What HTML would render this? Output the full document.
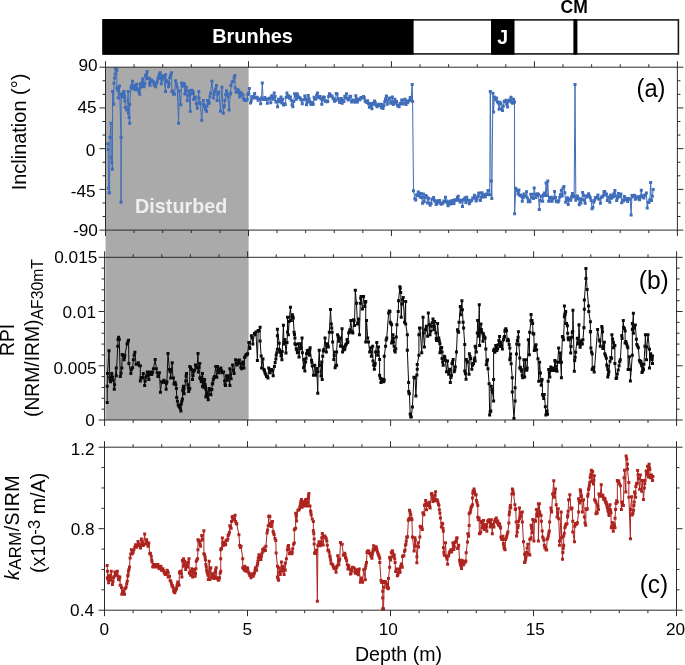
<!DOCTYPE html>
<html lang="en"><head><meta charset="utf-8"><title>Paleomagnetic record</title>
<style>html,body{margin:0;padding:0;background:#fff}body{width:685px;height:665px;overflow:hidden}svg{display:block}text{font-family:"Liberation Sans",Arial,Helvetica,sans-serif;fill:#000}</style></head><body>
<svg width="685" height="665" viewBox="0 0 685 665">
<rect width="685" height="665" fill="#fff"/>
<rect x="105.6" y="67.2" width="143" height="352.8" fill="#aaaaaa"/>
<rect x="103.2" y="19.9" width="575.2" height="34" fill="#fff" stroke="#1a1a1a" stroke-width="1.6"/>
<rect x="102.4" y="19.1" width="311.2" height="35.6" fill="#000"/>
<rect x="491" y="19.1" width="23.5" height="35.6" fill="#000"/>
<rect x="573.4" y="19.1" width="4" height="35.6" fill="#000"/>
<text x="252.6" y="43.3" font-size="19.9" font-weight="bold" text-anchor="middle" style="fill:#fff">Brunhes</text>
<text x="502.8" y="43.6" font-size="19.5" font-weight="bold" text-anchor="middle" style="fill:#fff">J</text>
<text x="574.2" y="13" font-size="17.5" font-weight="bold" text-anchor="middle">CM</text>
<polyline points="107.9,143.7 108.2,149.5 108.6,188.2 109.05,192.92 109.5,192.4 110,137.6 111,123.2 111.3,157.4 111.85,162.87 112.4,169.2 112.6,91.6 113.7,104.2 114,83.2 114.64,77.89 115.28,74.03 115.64,69 116.24,69 116.84,70.18 116.84,87.86 117.44,89.06 118.05,90.27 118.29,98.09 119.49,86.06 121.05,137.55 121.05,202.15 121.17,137.55 121.17,94.48 121.71,95.2 122.26,96.89 122.56,94.28 122.86,93.28 123.46,92.85 124.06,91.47 124.36,95.11 124.66,97.49 124.96,100.88 125.26,107.47 125.98,107.47 126.71,110.12 128.27,91.47 128.51,113.13 129.11,117.53 129.71,123.35 129.71,104.35 131.04,87.86 131.76,85.59 132.48,81.25 132.78,86 133.08,89.07 133.68,85.3 134.29,85.46 134.89,85.88 135.49,89.67 136.09,88.07 136.69,84.26 137.47,89.32 138.26,89.67 138.98,91.91 139.7,94.24 140,87.92 140.3,83.65 141.2,86.5 142.11,86.06 142.41,81.99 142.71,78.84 143.43,83.84 144.15,86.66 144.81,83.57 145.47,75.83 146.32,74.55 147.16,71.38 147.52,78.84 148.42,78.65 149.32,78.24 149.62,82.95 149.92,85.46 150.53,81.79 151.13,80.05 151.91,80.38 152.69,81.25 153.41,82.19 154.14,84.86 154.86,85.45 155.58,86.66 156.36,83.53 157.14,81.85 157.92,78.86 158.71,76.44 159.43,74.06 160.15,72.83 160.75,78.37 161.35,83.65 161.95,79.84 162.56,75.83 163.16,77.18 163.76,77.64 165.56,91.47 165.56,74.63 166.17,80.34 166.77,81.85 167.67,81.94 168.57,86.66 169.17,84.09 169.77,77.64 170.68,74.88 171.58,72.83 171.94,91.47 172.66,91.01 173.38,94.24 173.98,93.98 174.59,94.24 175.6,80.65 176.38,84.09 177.17,87.26 178.61,123.35 179.21,90.87 180.77,104.71 181.62,83.05 182.22,86.16 182.82,86.06 183.6,83.57 184.38,84.26 184.86,93.88 185.65,90.9 186.43,87.26 187.27,100.5 188.05,95.86 188.83,90.87 190.28,111.32 190.64,93.88 191.84,90.15 193.05,91.47 193.35,93.6 193.65,99.29 194.55,98.99 195.45,96.89 196.35,103.64 197.26,108.32 198.82,91.47 199.06,98.09 199.66,102.73 200.26,104.11 201.71,120.35 203.27,100.5 203.87,104.3 204.47,106.51 205.5,109.51 206.52,111.32 207,106.09 207.48,100.5 208.38,103.51 209.29,102.9 209.89,96.83 210.49,93.28 211.93,81.25 213.5,98.09 214.1,94.57 214.7,91.47 215.6,89.04 216.5,85.46 217.11,100.5 218.01,93.92 218.91,92.08 220.47,111.32 221.92,87.26 223.36,113.13 223.72,107.11 224.32,105.77 224.92,100.5 225.71,94.49 226.49,90.87 227.21,93.77 227.93,96.89 229.14,110.12 230.34,93.88 230.64,92.9 230.94,85.46 232.14,82.11 233.35,81.25 234.13,77.57 234.91,75.47 235.15,87.86 236.05,92.31 236.95,92.08 237.86,89.85 238.76,90.87 239.24,93.23 239.72,96.89 240.44,95.56 241.17,92.68 242.07,94.56 242.97,95.08 243.57,98.38 244.17,99.89 245.38,100.45 246.58,99.89 247.18,99.21 247.78,94.48 248.56,93 249.35,88.47 250.55,102.9 251.27,100.79 251.99,96.89 252.89,96.46 253.8,98.09 254.65,93.6 255.5,97.68 256.35,98.07 257.2,97.16 258.05,100.24 258.9,99.33 259.75,98.94 260.6,103.87 261.45,98.03 262.3,83.1 263.15,99.57 264,99.58 264.85,97.62 265.7,98.98 266.55,99.54 267.4,103.33 268.25,99.19 269.1,98.59 269.95,97.89 270.8,102.83 271.65,95.81 272.5,97.01 273.35,99.14 274.2,93.07 275.05,96.38 275.9,101.97 276.75,101.45 277.6,106.7 278.45,99.36 279.3,100.33 280.15,101.72 281,97.08 281.85,102.92 282.7,99.19 283.55,105.09 284.4,103.67 285.25,104.61 286.1,97.29 286.95,93.11 287.8,97.34 288.65,95.85 289.5,98.15 290.35,97.02 291.2,100.36 292.05,104.65 292.9,106.86 293.75,101.51 294.6,93.68 295.45,95.92 296.3,99.24 297.15,93.66 298,96.03 298.85,97.49 299.7,97.72 300.55,98.95 301.4,100.03 302.25,103.79 303.1,99.86 303.95,99.83 304.8,96.08 305.65,98.95 306.5,104.71 307.35,102.05 308.2,95.62 309.05,98.8 309.9,101.7 310.75,103.9 311.6,104.47 312.45,102.55 313.3,104.25 314.15,97.23 315,99.25 315.85,99.03 316.7,95.07 317.55,93.1 318.4,97.21 319.25,97.48 320.1,96.43 320.95,98.66 321.8,104.28 322.65,99.74 323.5,97 324.35,97.16 325.2,101.14 326.05,100.81 326.9,101.82 327.75,101.43 328.6,96.62 329.45,93.78 330.3,95 331.15,95.91 332,95.95 332.85,97.98 333.7,99.08 334.55,101.32 335.4,100.53 336.25,93.45 337.1,94.31 337.95,98.22 338.8,100.37 339.65,102.48 340.5,99.83 341.35,98.59 342.2,103.37 343.05,99.92 343.9,101.44 344.75,96.32 345.6,97.71 346.45,93.8 347.3,98.38 348.15,99.95 349,98.95 349.85,96.3 350.7,96.54 351.55,101.89 352.4,100.18 353.25,99.88 354.1,101.06 354.95,102.24 355.8,95.8 356.65,99.12 357.5,101.97 358.35,98.98 359.2,99.14 360.05,99.84 360.9,97.69 361.75,97.6 362.6,97.96 363.45,96.4 364.3,97.71 365.15,100.95 366,101.69 366.85,102.52 367.7,100.79 368.55,103.79 369.4,107.37 370.25,103.42 371.1,105.82 371.95,108.75 372.8,103.37 373.65,104.16 374.5,101.07 375.35,102.72 376.2,105.25 377.05,106.8 377.9,105.43 378.75,104.17 379.6,105.27 380.45,104.24 381.3,107.49 382.15,104.5 383,108.47 383.85,105.67 384.7,101.87 385.55,99.07 386.4,96 387.25,104.15 388.1,101.1 388.95,98.44 389.8,97.92 390.65,103.26 391.5,101.78 392.35,96.92 393.2,104.52 394.05,102.22 394.9,99.35 395.75,103.34 396.6,101.43 397.45,105.36 398.3,106.28 399.15,106.65 400,103.82 400.85,103.32 401.7,100 402.55,103.96 403.4,103.33 404.25,99.82 405.1,99.34 405.95,104.56 406.8,101.06 407.65,102.76 408.5,100.96 409.35,100.43 410.2,97.52 411.05,99.42 412.2,84.6 412.6,101.6 413.5,190.8 414.9,198.66 415.75,200.08 416.6,194.83 417.45,195.57 418.3,192.06 419.15,193.22 420,196.94 420.85,193.46 421.7,197.59 422.55,203.27 423.4,194.05 424.25,201.66 425.1,197.87 425.95,195.48 426.8,196.91 427.65,203.07 428.5,198.19 429.35,203.19 430.2,205.24 431.05,203.4 431.9,199.33 432.75,199.02 433.6,197.49 434.45,200.55 435.3,201.23 436.15,204.45 437,203.61 437.85,200.67 438.7,202.03 439.55,200.48 440.4,202.92 441.25,204.17 442.1,202.98 442.95,203.21 443.8,201.12 444.65,201.47 445.5,197.17 446.35,201.03 447.2,202.71 448.05,205.73 448.9,203.94 449.75,201.17 450.6,204 451.45,203.21 452.3,200.57 453.15,201.78 454,203.42 454.85,199.73 455.7,200.55 456.55,199.97 457.4,197.38 458.25,196.21 459.1,199.96 459.95,202.09 460.8,200.62 461.65,201.09 462.5,206.38 463.35,199.42 464.2,199.85 465.05,197.86 465.9,202.43 466.75,197.23 467.6,200.26 468.45,200.13 469.3,203.75 470.15,201.69 471,200.85 471.85,200.26 472.7,198.08 473.55,198.11 474.4,195.36 475.25,198.23 476.1,200.95 476.95,199.24 477.8,196.48 478.65,193.35 479.5,193.1 480.35,200.39 481.2,197.34 482.05,192.72 482.9,194.6 483.75,196.9 484.6,195.36 485.45,196.85 486.3,194.02 487.15,194.46 488,190.39 488.85,190.99 489.7,194.63 490.3,91.4 491.2,180.9 491.8,198.6 492.9,93.2 493.6,112 494.3,97 495.7,99.73 496.55,97.88 497.4,101.67 498.25,102.93 499.1,109.27 499.95,102.27 500.8,103.7 501.65,109.06 502.5,110.38 503.35,106.23 504.2,101.34 505.05,101.75 505.9,100.21 506.75,104.35 507.6,106.95 508.45,101.28 509.3,99.94 510.15,100.94 511,97.36 511.85,102.61 512.7,103.34 513.55,99.22 514.5,102 514.6,213.7 515.8,188.2 517.2,190.82 518.05,193.94 518.9,190.05 519.75,195.47 520.6,194.94 521.45,196.27 522.3,201.3 523.15,197.72 524,193.96 524.85,195.65 525.7,196.14 526.55,191.72 527.4,198.04 528.25,201.64 529.1,200.57 529.95,201.78 530.8,194.28 531.65,194.15 532.5,197.77 533.35,198.58 534.2,187.97 535.05,194.17 535.9,197.45 536.75,195.59 537.6,193.71 538.45,194.19 539.3,209.6 540.15,200.5 541,196.11 541.85,196.2 542.7,201.26 543.55,194.69 544.4,192.99 545.25,195.45 546.1,183 546.95,195.62 547.8,181 548.65,201.29 549.5,197.48 550.35,201.33 551.2,197.31 552.05,201.29 552.9,198.87 553.75,197.91 554.6,191.44 555.45,197.52 556.3,201.38 557.15,200.71 558,201.92 558.85,200.8 559.7,197.13 560.55,194.38 561.4,190.36 562.25,196.12 563.1,188.09 563.95,186.56 564.8,192.77 565.65,202.17 566.5,199.45 567.35,197.75 568.2,204.47 569.05,200.04 569.9,198.92 570.75,200.27 571.6,196.45 572.45,193.55 573.3,196.96 574.15,196.25 575,84.6 575.85,200.28 576.7,198.27 577.55,195.97 578.4,198.38 579.25,204.68 580.1,198.71 580.95,202.91 581.8,199.4 582.65,192.62 583.5,195.24 584.35,200.13 585.2,203.2 586.05,196.3 586.9,196.96 587.75,195.51 588.6,193.66 589.45,195.91 590.3,197.76 591.15,200.62 592,208.64 592.85,207.31 593.7,202.14 594.55,200.15 595.4,197.43 596.25,197.88 597.1,197.18 597.95,194.88 598.8,199.12 599.65,199.15 600.5,203.32 601.35,197.06 602.2,197.19 603.05,195.83 603.9,191.9 604.75,191.59 605.6,195.04 606.45,193.92 607.3,200.41 608.15,197.45 609,196.99 609.85,202.14 610.7,195.02 611.55,198.13 612.4,195.04 613.25,197.01 614.1,193.32 614.95,190.54 615.8,195.92 616.65,200.43 617.5,197.93 618.35,193.6 619.2,195.38 620.05,196.82 620.9,193.88 621.75,202.68 622.6,199.92 623.45,201.04 624.3,196.52 625.15,197.88 626,199.84 626.85,198.47 627.7,201.51 628.55,198.44 629.4,199.32 630.25,198.9 631.1,215 631.95,195.4 632.8,196.73 633.65,195.49 634.5,195.21 635.35,199.29 636.2,196.94 637.05,196.72 637.9,196.66 638.75,198.77 639.6,199.75 640.45,196.33 641.3,190.34 642.15,197.08 643,195.77 643.85,197.97 644.7,195.28 645.55,195.11 646.4,193.03 647.25,208 648.1,202.25 648.95,202.55 649.8,199.86 650.65,182.5 651.5,200.54 652.35,196.32 653.2,189.6" fill="none" stroke="#406db9" stroke-width="1.0" stroke-linejoin="round"/>
<path d="M106.4 142.2h3v3h-3zM106.7 148h3v3h-3zM107.1 186.7h3v3h-3zM107.55 191.42h3v3h-3zM108 190.9h3v3h-3zM108.5 136.1h3v3h-3zM109.5 121.7h3v3h-3zM109.8 155.9h3v3h-3zM110.35 161.37h3v3h-3zM110.9 167.7h3v3h-3zM111.1 90.1h3v3h-3zM112.2 102.7h3v3h-3zM112.5 81.7h3v3h-3zM113.14 76.39h3v3h-3zM113.78 72.53h3v3h-3zM114.14 67.5h3v3h-3zM114.74 67.5h3v3h-3zM115.34 68.68h3v3h-3zM115.34 86.36h3v3h-3zM115.94 87.56h3v3h-3zM116.55 88.77h3v3h-3zM116.79 96.59h3v3h-3zM117.99 84.56h3v3h-3zM119.55 136.05h3v3h-3zM119.55 200.65h3v3h-3zM119.67 136.05h3v3h-3zM119.67 92.98h3v3h-3zM120.21 93.7h3v3h-3zM120.76 95.39h3v3h-3zM121.06 92.78h3v3h-3zM121.36 91.78h3v3h-3zM121.96 91.35h3v3h-3zM122.56 89.97h3v3h-3zM122.86 93.61h3v3h-3zM123.16 95.99h3v3h-3zM123.46 99.38h3v3h-3zM123.76 105.97h3v3h-3zM124.48 105.97h3v3h-3zM125.21 108.62h3v3h-3zM126.77 89.97h3v3h-3zM127.01 111.63h3v3h-3zM127.61 116.03h3v3h-3zM128.21 121.85h3v3h-3zM128.21 102.85h3v3h-3zM129.54 86.36h3v3h-3zM130.26 84.09h3v3h-3zM130.98 79.75h3v3h-3zM131.28 84.5h3v3h-3zM131.58 87.57h3v3h-3zM132.18 83.8h3v3h-3zM132.79 83.96h3v3h-3zM133.39 84.38h3v3h-3zM133.99 88.17h3v3h-3zM134.59 86.57h3v3h-3zM135.19 82.76h3v3h-3zM135.97 87.82h3v3h-3zM136.76 88.17h3v3h-3zM137.48 90.41h3v3h-3zM138.2 92.74h3v3h-3zM138.5 86.42h3v3h-3zM138.8 82.15h3v3h-3zM139.7 85h3v3h-3zM140.61 84.56h3v3h-3zM140.91 80.49h3v3h-3zM141.21 77.34h3v3h-3zM141.93 82.34h3v3h-3zM142.65 85.16h3v3h-3zM143.31 82.07h3v3h-3zM143.97 74.33h3v3h-3zM144.82 73.05h3v3h-3zM145.66 69.88h3v3h-3zM146.02 77.34h3v3h-3zM146.92 77.15h3v3h-3zM147.82 76.74h3v3h-3zM148.12 81.45h3v3h-3zM148.42 83.96h3v3h-3zM149.03 80.29h3v3h-3zM149.63 78.55h3v3h-3zM150.41 78.88h3v3h-3zM151.19 79.75h3v3h-3zM151.91 80.69h3v3h-3zM152.64 83.36h3v3h-3zM153.36 83.95h3v3h-3zM154.08 85.16h3v3h-3zM154.86 82.03h3v3h-3zM155.64 80.35h3v3h-3zM156.42 77.36h3v3h-3zM157.21 74.94h3v3h-3zM157.93 72.56h3v3h-3zM158.65 71.33h3v3h-3zM159.25 76.87h3v3h-3zM159.85 82.15h3v3h-3zM160.45 78.34h3v3h-3zM161.06 74.33h3v3h-3zM161.66 75.68h3v3h-3zM162.26 76.14h3v3h-3zM164.06 89.97h3v3h-3zM164.06 73.13h3v3h-3zM164.67 78.84h3v3h-3zM165.27 80.35h3v3h-3zM166.17 80.44h3v3h-3zM167.07 85.16h3v3h-3zM167.67 82.59h3v3h-3zM168.27 76.14h3v3h-3zM169.18 73.38h3v3h-3zM170.08 71.33h3v3h-3zM170.44 89.97h3v3h-3zM171.16 89.51h3v3h-3zM171.88 92.74h3v3h-3zM172.48 92.48h3v3h-3zM173.09 92.74h3v3h-3zM174.1 79.15h3v3h-3zM174.88 82.59h3v3h-3zM175.67 85.76h3v3h-3zM177.11 121.85h3v3h-3zM177.71 89.37h3v3h-3zM179.27 103.21h3v3h-3zM180.12 81.55h3v3h-3zM180.72 84.66h3v3h-3zM181.32 84.56h3v3h-3zM182.1 82.07h3v3h-3zM182.88 82.76h3v3h-3zM183.36 92.38h3v3h-3zM184.15 89.4h3v3h-3zM184.93 85.76h3v3h-3zM185.77 99h3v3h-3zM186.55 94.36h3v3h-3zM187.33 89.37h3v3h-3zM188.78 109.82h3v3h-3zM189.14 92.38h3v3h-3zM190.34 88.65h3v3h-3zM191.55 89.97h3v3h-3zM191.85 92.1h3v3h-3zM192.15 97.79h3v3h-3zM193.05 97.49h3v3h-3zM193.95 95.39h3v3h-3zM194.85 102.14h3v3h-3zM195.76 106.82h3v3h-3zM197.32 89.97h3v3h-3zM197.56 96.59h3v3h-3zM198.16 101.23h3v3h-3zM198.76 102.61h3v3h-3zM200.21 118.85h3v3h-3zM201.77 99h3v3h-3zM202.37 102.8h3v3h-3zM202.97 105.01h3v3h-3zM204 108.01h3v3h-3zM205.02 109.82h3v3h-3zM205.5 104.59h3v3h-3zM205.98 99h3v3h-3zM206.88 102.01h3v3h-3zM207.79 101.4h3v3h-3zM208.39 95.33h3v3h-3zM208.99 91.78h3v3h-3zM210.43 79.75h3v3h-3zM212 96.59h3v3h-3zM212.6 93.07h3v3h-3zM213.2 89.97h3v3h-3zM214.1 87.54h3v3h-3zM215 83.96h3v3h-3zM215.61 99h3v3h-3zM216.51 92.42h3v3h-3zM217.41 90.58h3v3h-3zM218.97 109.82h3v3h-3zM220.42 85.76h3v3h-3zM221.86 111.63h3v3h-3zM222.22 105.61h3v3h-3zM222.82 104.27h3v3h-3zM223.42 99h3v3h-3zM224.21 92.99h3v3h-3zM224.99 89.37h3v3h-3zM225.71 92.27h3v3h-3zM226.43 95.39h3v3h-3zM227.64 108.62h3v3h-3zM228.84 92.38h3v3h-3zM229.14 91.4h3v3h-3zM229.44 83.96h3v3h-3zM230.64 80.61h3v3h-3zM231.85 79.75h3v3h-3zM232.63 76.07h3v3h-3zM233.41 73.97h3v3h-3zM233.65 86.36h3v3h-3zM234.55 90.81h3v3h-3zM235.45 90.58h3v3h-3zM236.36 88.35h3v3h-3zM237.26 89.37h3v3h-3zM237.74 91.73h3v3h-3zM238.22 95.39h3v3h-3zM238.94 94.06h3v3h-3zM239.67 91.18h3v3h-3zM240.57 93.06h3v3h-3zM241.47 93.58h3v3h-3zM242.07 96.88h3v3h-3zM242.67 98.39h3v3h-3zM243.88 98.95h3v3h-3zM245.08 98.39h3v3h-3zM245.68 97.71h3v3h-3zM246.28 92.98h3v3h-3zM247.06 91.5h3v3h-3zM247.85 86.97h3v3h-3zM249.05 101.4h3v3h-3zM249.77 99.29h3v3h-3zM250.49 95.39h3v3h-3zM251.39 94.96h3v3h-3zM252.3 96.59h3v3h-3zM253.15 92.1h3v3h-3zM254 96.18h3v3h-3zM254.85 96.57h3v3h-3zM255.7 95.66h3v3h-3zM256.55 98.74h3v3h-3zM257.4 97.83h3v3h-3zM258.25 97.44h3v3h-3zM259.1 102.37h3v3h-3zM259.95 96.53h3v3h-3zM260.8 81.6h3v3h-3zM261.65 98.07h3v3h-3zM262.5 98.08h3v3h-3zM263.35 96.12h3v3h-3zM264.2 97.48h3v3h-3zM265.05 98.04h3v3h-3zM265.9 101.83h3v3h-3zM266.75 97.69h3v3h-3zM267.6 97.09h3v3h-3zM268.45 96.39h3v3h-3zM269.3 101.33h3v3h-3zM270.15 94.31h3v3h-3zM271 95.51h3v3h-3zM271.85 97.64h3v3h-3zM272.7 91.57h3v3h-3zM273.55 94.88h3v3h-3zM274.4 100.47h3v3h-3zM275.25 99.95h3v3h-3zM276.1 105.2h3v3h-3zM276.95 97.86h3v3h-3zM277.8 98.83h3v3h-3zM278.65 100.22h3v3h-3zM279.5 95.58h3v3h-3zM280.35 101.42h3v3h-3zM281.2 97.69h3v3h-3zM282.05 103.59h3v3h-3zM282.9 102.17h3v3h-3zM283.75 103.11h3v3h-3zM284.6 95.79h3v3h-3zM285.45 91.61h3v3h-3zM286.3 95.84h3v3h-3zM287.15 94.35h3v3h-3zM288 96.65h3v3h-3zM288.85 95.52h3v3h-3zM289.7 98.86h3v3h-3zM290.55 103.15h3v3h-3zM291.4 105.36h3v3h-3zM292.25 100.01h3v3h-3zM293.1 92.18h3v3h-3zM293.95 94.42h3v3h-3zM294.8 97.74h3v3h-3zM295.65 92.16h3v3h-3zM296.5 94.53h3v3h-3zM297.35 95.99h3v3h-3zM298.2 96.22h3v3h-3zM299.05 97.45h3v3h-3zM299.9 98.53h3v3h-3zM300.75 102.29h3v3h-3zM301.6 98.36h3v3h-3zM302.45 98.33h3v3h-3zM303.3 94.58h3v3h-3zM304.15 97.45h3v3h-3zM305 103.21h3v3h-3zM305.85 100.55h3v3h-3zM306.7 94.12h3v3h-3zM307.55 97.3h3v3h-3zM308.4 100.2h3v3h-3zM309.25 102.4h3v3h-3zM310.1 102.97h3v3h-3zM310.95 101.05h3v3h-3zM311.8 102.75h3v3h-3zM312.65 95.73h3v3h-3zM313.5 97.75h3v3h-3zM314.35 97.53h3v3h-3zM315.2 93.57h3v3h-3zM316.05 91.6h3v3h-3zM316.9 95.71h3v3h-3zM317.75 95.98h3v3h-3zM318.6 94.93h3v3h-3zM319.45 97.16h3v3h-3zM320.3 102.78h3v3h-3zM321.15 98.24h3v3h-3zM322 95.5h3v3h-3zM322.85 95.66h3v3h-3zM323.7 99.64h3v3h-3zM324.55 99.31h3v3h-3zM325.4 100.32h3v3h-3zM326.25 99.93h3v3h-3zM327.1 95.12h3v3h-3zM327.95 92.28h3v3h-3zM328.8 93.5h3v3h-3zM329.65 94.41h3v3h-3zM330.5 94.45h3v3h-3zM331.35 96.48h3v3h-3zM332.2 97.58h3v3h-3zM333.05 99.82h3v3h-3zM333.9 99.03h3v3h-3zM334.75 91.95h3v3h-3zM335.6 92.81h3v3h-3zM336.45 96.72h3v3h-3zM337.3 98.87h3v3h-3zM338.15 100.98h3v3h-3zM339 98.33h3v3h-3zM339.85 97.09h3v3h-3zM340.7 101.87h3v3h-3zM341.55 98.42h3v3h-3zM342.4 99.94h3v3h-3zM343.25 94.82h3v3h-3zM344.1 96.21h3v3h-3zM344.95 92.3h3v3h-3zM345.8 96.88h3v3h-3zM346.65 98.45h3v3h-3zM347.5 97.45h3v3h-3zM348.35 94.8h3v3h-3zM349.2 95.04h3v3h-3zM350.05 100.39h3v3h-3zM350.9 98.68h3v3h-3zM351.75 98.38h3v3h-3zM352.6 99.56h3v3h-3zM353.45 100.74h3v3h-3zM354.3 94.3h3v3h-3zM355.15 97.62h3v3h-3zM356 100.47h3v3h-3zM356.85 97.48h3v3h-3zM357.7 97.64h3v3h-3zM358.55 98.34h3v3h-3zM359.4 96.19h3v3h-3zM360.25 96.1h3v3h-3zM361.1 96.46h3v3h-3zM361.95 94.9h3v3h-3zM362.8 96.21h3v3h-3zM363.65 99.45h3v3h-3zM364.5 100.19h3v3h-3zM365.35 101.02h3v3h-3zM366.2 99.29h3v3h-3zM367.05 102.29h3v3h-3zM367.9 105.87h3v3h-3zM368.75 101.92h3v3h-3zM369.6 104.32h3v3h-3zM370.45 107.25h3v3h-3zM371.3 101.87h3v3h-3zM372.15 102.66h3v3h-3zM373 99.57h3v3h-3zM373.85 101.22h3v3h-3zM374.7 103.75h3v3h-3zM375.55 105.3h3v3h-3zM376.4 103.93h3v3h-3zM377.25 102.67h3v3h-3zM378.1 103.77h3v3h-3zM378.95 102.74h3v3h-3zM379.8 105.99h3v3h-3zM380.65 103h3v3h-3zM381.5 106.97h3v3h-3zM382.35 104.17h3v3h-3zM383.2 100.37h3v3h-3zM384.05 97.57h3v3h-3zM384.9 94.5h3v3h-3zM385.75 102.65h3v3h-3zM386.6 99.6h3v3h-3zM387.45 96.94h3v3h-3zM388.3 96.42h3v3h-3zM389.15 101.76h3v3h-3zM390 100.28h3v3h-3zM390.85 95.42h3v3h-3zM391.7 103.02h3v3h-3zM392.55 100.72h3v3h-3zM393.4 97.85h3v3h-3zM394.25 101.84h3v3h-3zM395.1 99.93h3v3h-3zM395.95 103.86h3v3h-3zM396.8 104.78h3v3h-3zM397.65 105.15h3v3h-3zM398.5 102.32h3v3h-3zM399.35 101.82h3v3h-3zM400.2 98.5h3v3h-3zM401.05 102.46h3v3h-3zM401.9 101.83h3v3h-3zM402.75 98.32h3v3h-3zM403.6 97.84h3v3h-3zM404.45 103.06h3v3h-3zM405.3 99.56h3v3h-3zM406.15 101.26h3v3h-3zM407 99.46h3v3h-3zM407.85 98.93h3v3h-3zM408.7 96.02h3v3h-3zM409.55 97.92h3v3h-3zM410.7 83.1h3v3h-3zM411.1 100.1h3v3h-3zM412 189.3h3v3h-3zM413.4 197.16h3v3h-3zM414.25 198.58h3v3h-3zM415.1 193.33h3v3h-3zM415.95 194.07h3v3h-3zM416.8 190.56h3v3h-3zM417.65 191.72h3v3h-3zM418.5 195.44h3v3h-3zM419.35 191.96h3v3h-3zM420.2 196.09h3v3h-3zM421.05 201.77h3v3h-3zM421.9 192.55h3v3h-3zM422.75 200.16h3v3h-3zM423.6 196.37h3v3h-3zM424.45 193.98h3v3h-3zM425.3 195.41h3v3h-3zM426.15 201.57h3v3h-3zM427 196.69h3v3h-3zM427.85 201.69h3v3h-3zM428.7 203.74h3v3h-3zM429.55 201.9h3v3h-3zM430.4 197.83h3v3h-3zM431.25 197.52h3v3h-3zM432.1 195.99h3v3h-3zM432.95 199.05h3v3h-3zM433.8 199.73h3v3h-3zM434.65 202.95h3v3h-3zM435.5 202.11h3v3h-3zM436.35 199.17h3v3h-3zM437.2 200.53h3v3h-3zM438.05 198.98h3v3h-3zM438.9 201.42h3v3h-3zM439.75 202.67h3v3h-3zM440.6 201.48h3v3h-3zM441.45 201.71h3v3h-3zM442.3 199.62h3v3h-3zM443.15 199.97h3v3h-3zM444 195.67h3v3h-3zM444.85 199.53h3v3h-3zM445.7 201.21h3v3h-3zM446.55 204.23h3v3h-3zM447.4 202.44h3v3h-3zM448.25 199.67h3v3h-3zM449.1 202.5h3v3h-3zM449.95 201.71h3v3h-3zM450.8 199.07h3v3h-3zM451.65 200.28h3v3h-3zM452.5 201.92h3v3h-3zM453.35 198.23h3v3h-3zM454.2 199.05h3v3h-3zM455.05 198.47h3v3h-3zM455.9 195.88h3v3h-3zM456.75 194.71h3v3h-3zM457.6 198.46h3v3h-3zM458.45 200.59h3v3h-3zM459.3 199.12h3v3h-3zM460.15 199.59h3v3h-3zM461 204.88h3v3h-3zM461.85 197.92h3v3h-3zM462.7 198.35h3v3h-3zM463.55 196.36h3v3h-3zM464.4 200.93h3v3h-3zM465.25 195.73h3v3h-3zM466.1 198.76h3v3h-3zM466.95 198.63h3v3h-3zM467.8 202.25h3v3h-3zM468.65 200.19h3v3h-3zM469.5 199.35h3v3h-3zM470.35 198.76h3v3h-3zM471.2 196.58h3v3h-3zM472.05 196.61h3v3h-3zM472.9 193.86h3v3h-3zM473.75 196.73h3v3h-3zM474.6 199.45h3v3h-3zM475.45 197.74h3v3h-3zM476.3 194.98h3v3h-3zM477.15 191.85h3v3h-3zM478 191.6h3v3h-3zM478.85 198.89h3v3h-3zM479.7 195.84h3v3h-3zM480.55 191.22h3v3h-3zM481.4 193.1h3v3h-3zM482.25 195.4h3v3h-3zM483.1 193.86h3v3h-3zM483.95 195.35h3v3h-3zM484.8 192.52h3v3h-3zM485.65 192.96h3v3h-3zM486.5 188.89h3v3h-3zM487.35 189.49h3v3h-3zM488.2 193.13h3v3h-3zM488.8 89.9h3v3h-3zM489.7 179.4h3v3h-3zM490.3 197.1h3v3h-3zM491.4 91.7h3v3h-3zM492.1 110.5h3v3h-3zM492.8 95.5h3v3h-3zM494.2 98.23h3v3h-3zM495.05 96.38h3v3h-3zM495.9 100.17h3v3h-3zM496.75 101.43h3v3h-3zM497.6 107.77h3v3h-3zM498.45 100.77h3v3h-3zM499.3 102.2h3v3h-3zM500.15 107.56h3v3h-3zM501 108.88h3v3h-3zM501.85 104.73h3v3h-3zM502.7 99.84h3v3h-3zM503.55 100.25h3v3h-3zM504.4 98.71h3v3h-3zM505.25 102.85h3v3h-3zM506.1 105.45h3v3h-3zM506.95 99.78h3v3h-3zM507.8 98.44h3v3h-3zM508.65 99.44h3v3h-3zM509.5 95.86h3v3h-3zM510.35 101.11h3v3h-3zM511.2 101.84h3v3h-3zM512.05 97.72h3v3h-3zM513 100.5h3v3h-3zM513.1 212.2h3v3h-3zM514.3 186.7h3v3h-3zM515.7 189.32h3v3h-3zM516.55 192.44h3v3h-3zM517.4 188.55h3v3h-3zM518.25 193.97h3v3h-3zM519.1 193.44h3v3h-3zM519.95 194.77h3v3h-3zM520.8 199.8h3v3h-3zM521.65 196.22h3v3h-3zM522.5 192.46h3v3h-3zM523.35 194.15h3v3h-3zM524.2 194.64h3v3h-3zM525.05 190.22h3v3h-3zM525.9 196.54h3v3h-3zM526.75 200.14h3v3h-3zM527.6 199.07h3v3h-3zM528.45 200.28h3v3h-3zM529.3 192.78h3v3h-3zM530.15 192.65h3v3h-3zM531 196.27h3v3h-3zM531.85 197.08h3v3h-3zM532.7 186.47h3v3h-3zM533.55 192.67h3v3h-3zM534.4 195.95h3v3h-3zM535.25 194.09h3v3h-3zM536.1 192.21h3v3h-3zM536.95 192.69h3v3h-3zM537.8 208.1h3v3h-3zM538.65 199h3v3h-3zM539.5 194.61h3v3h-3zM540.35 194.7h3v3h-3zM541.2 199.76h3v3h-3zM542.05 193.19h3v3h-3zM542.9 191.49h3v3h-3zM543.75 193.95h3v3h-3zM544.6 181.5h3v3h-3zM545.45 194.12h3v3h-3zM546.3 179.5h3v3h-3zM547.15 199.79h3v3h-3zM548 195.98h3v3h-3zM548.85 199.83h3v3h-3zM549.7 195.81h3v3h-3zM550.55 199.79h3v3h-3zM551.4 197.37h3v3h-3zM552.25 196.41h3v3h-3zM553.1 189.94h3v3h-3zM553.95 196.02h3v3h-3zM554.8 199.88h3v3h-3zM555.65 199.21h3v3h-3zM556.5 200.42h3v3h-3zM557.35 199.3h3v3h-3zM558.2 195.63h3v3h-3zM559.05 192.88h3v3h-3zM559.9 188.86h3v3h-3zM560.75 194.62h3v3h-3zM561.6 186.59h3v3h-3zM562.45 185.06h3v3h-3zM563.3 191.27h3v3h-3zM564.15 200.67h3v3h-3zM565 197.95h3v3h-3zM565.85 196.25h3v3h-3zM566.7 202.97h3v3h-3zM567.55 198.54h3v3h-3zM568.4 197.42h3v3h-3zM569.25 198.77h3v3h-3zM570.1 194.95h3v3h-3zM570.95 192.05h3v3h-3zM571.8 195.46h3v3h-3zM572.65 194.75h3v3h-3zM573.5 83.1h3v3h-3zM574.35 198.78h3v3h-3zM575.2 196.77h3v3h-3zM576.05 194.47h3v3h-3zM576.9 196.88h3v3h-3zM577.75 203.18h3v3h-3zM578.6 197.21h3v3h-3zM579.45 201.41h3v3h-3zM580.3 197.9h3v3h-3zM581.15 191.12h3v3h-3zM582 193.74h3v3h-3zM582.85 198.63h3v3h-3zM583.7 201.7h3v3h-3zM584.55 194.8h3v3h-3zM585.4 195.46h3v3h-3zM586.25 194.01h3v3h-3zM587.1 192.16h3v3h-3zM587.95 194.41h3v3h-3zM588.8 196.26h3v3h-3zM589.65 199.12h3v3h-3zM590.5 207.14h3v3h-3zM591.35 205.81h3v3h-3zM592.2 200.64h3v3h-3zM593.05 198.65h3v3h-3zM593.9 195.93h3v3h-3zM594.75 196.38h3v3h-3zM595.6 195.68h3v3h-3zM596.45 193.38h3v3h-3zM597.3 197.62h3v3h-3zM598.15 197.65h3v3h-3zM599 201.82h3v3h-3zM599.85 195.56h3v3h-3zM600.7 195.69h3v3h-3zM601.55 194.33h3v3h-3zM602.4 190.4h3v3h-3zM603.25 190.09h3v3h-3zM604.1 193.54h3v3h-3zM604.95 192.42h3v3h-3zM605.8 198.91h3v3h-3zM606.65 195.95h3v3h-3zM607.5 195.49h3v3h-3zM608.35 200.64h3v3h-3zM609.2 193.52h3v3h-3zM610.05 196.63h3v3h-3zM610.9 193.54h3v3h-3zM611.75 195.51h3v3h-3zM612.6 191.82h3v3h-3zM613.45 189.04h3v3h-3zM614.3 194.42h3v3h-3zM615.15 198.93h3v3h-3zM616 196.43h3v3h-3zM616.85 192.1h3v3h-3zM617.7 193.88h3v3h-3zM618.55 195.32h3v3h-3zM619.4 192.38h3v3h-3zM620.25 201.18h3v3h-3zM621.1 198.42h3v3h-3zM621.95 199.54h3v3h-3zM622.8 195.02h3v3h-3zM623.65 196.38h3v3h-3zM624.5 198.34h3v3h-3zM625.35 196.97h3v3h-3zM626.2 200.01h3v3h-3zM627.05 196.94h3v3h-3zM627.9 197.82h3v3h-3zM628.75 197.4h3v3h-3zM629.6 213.5h3v3h-3zM630.45 193.9h3v3h-3zM631.3 195.23h3v3h-3zM632.15 193.99h3v3h-3zM633 193.71h3v3h-3zM633.85 197.79h3v3h-3zM634.7 195.44h3v3h-3zM635.55 195.22h3v3h-3zM636.4 195.16h3v3h-3zM637.25 197.27h3v3h-3zM638.1 198.25h3v3h-3zM638.95 194.83h3v3h-3zM639.8 188.84h3v3h-3zM640.65 195.58h3v3h-3zM641.5 194.27h3v3h-3zM642.35 196.47h3v3h-3zM643.2 193.78h3v3h-3zM644.05 193.61h3v3h-3zM644.9 191.53h3v3h-3zM645.75 206.5h3v3h-3zM646.6 200.75h3v3h-3zM647.45 201.05h3v3h-3zM648.3 198.36h3v3h-3zM649.15 181h3v3h-3zM650 199.04h3v3h-3zM650.85 194.82h3v3h-3zM651.7 188.1h3v3h-3z" fill="#406db9"/>
<polyline points="107.22,402.41 107.22,386.17 107.52,373.38 109.02,350.83 109.77,377.14 110.15,380.01 110.53,381.65 111.13,376.63 111.73,373.38 112.48,377.08 113.23,380.15 114.29,389.17 114.59,384.66 116.24,368.12 116.24,375.64 117.74,346.32 118.05,339.55 118.65,337.34 119.25,339.55 120.3,376.39 121.05,373.23 121.8,368.12 122.26,354.59 123.16,355.22 124.06,359.85 124.44,357.6 124.81,355.34 127.07,344.06 127.82,342.02 128.57,340.3 128.87,363.61 130.83,373.38 131.35,369.7 131.88,368.12 132.63,367.72 133.38,359.85 134.14,355.31 134.89,352.33 136.09,364.36 137.22,364.22 138.35,362.86 139.32,365.79 140.3,365.86 140.3,380.9 141.05,377.82 141.8,377.89 142.56,377.38 143.31,373.38 144.66,385.41 145.26,381.12 145.86,377.14 146.62,375.83 147.37,371.88 148.12,374.45 148.87,379.4 149.62,374.3 150.38,371.88 151.13,374.58 151.88,374.14 152.63,372.16 153.38,368.87 155.19,359.4 156.39,368.87 157.14,372.81 157.89,376.39 158.65,375.34 159.4,372.63 160.45,392.18 161.65,381.65 162.41,382.34 163.16,381.65 163.91,380.15 164.66,381.65 165.41,382.54 166.17,389.17 166.54,383.23 166.92,381.65 167.97,353.38 169.47,369.62 170.08,371.43 170.68,377.89 172.18,362.86 172.93,377.89 173.46,378.02 173.98,383.91 174.59,382.32 175.19,382.41 175.79,384.73 176.39,388.42 176.69,397.44 177.44,401.15 178.2,404.96 178.95,406.37 179.7,407.22 180.3,408.6 180.9,410.98 181.2,404.21 181.8,401.25 182.41,398.95 182.71,390.68 183.08,388.52 183.46,386.17 183.83,388.63 184.21,393.68 185.71,380.9 186.09,376.21 186.47,373.38 187.97,384.66 188.35,388.09 188.72,391.43 189.25,389.04 189.77,388.42 189.77,366.62 190.6,367.38 191.43,369.62 192.48,379.4 193.01,375.5 193.53,371.88 194.51,370.23 195.49,365.11 196.24,367.03 196.99,368.12 198.01,353.38 198.31,371.88 199.06,367.31 199.81,363.61 199.81,377.89 200.56,379.01 201.32,381.65 201.92,377.37 202.52,373.38 202.52,386.17 203.27,387.2 204.02,382.41 204.62,379.44 205.23,384.66 205.53,387.61 205.83,389.17 205.83,396.69 206.43,394.74 207.03,392.18 207.63,397.07 208.23,399.7 209.29,388.42 209.66,389.94 210.04,394.44 210.94,394.7 211.84,389.47 212.29,383.91 212.82,382.96 213.35,379.4 213.95,377.83 214.55,376.39 215.75,366.62 216.8,377.14 217.56,366.62 218.16,369.83 218.76,372.63 219.81,369.44 220.86,368.12 221.47,370.44 222.07,372.63 222.82,372.07 223.57,371.88 224.62,380.9 225.08,384.38 225.53,385.41 226.58,375.64 226.95,378.36 227.33,380.15 227.86,377.79 228.38,375.64 229.89,385.41 229.89,368.87 231.09,378.65 232.59,365.11 233.35,370.13 234.1,373.38 235.6,359.85 236.35,363.2 237.11,365.11 237.86,363.15 238.61,360.6 239.36,360.12 240.11,363.61 240.86,367.58 241.62,368.87 242.22,363.97 242.82,362.11 243.35,363.8 243.87,368.12 244.62,357.59 245.38,355.95 246.13,354.59 246.88,354.88 247.63,353.83 248.83,342.56 249.36,347.39 249.89,348.57 251.39,335.79 252.14,337.73 252.89,344.06 254.4,333.53 255.15,334.69 255.9,332.03 257.41,360.6 258.16,330.53 259.14,331 260.11,327.22 260.11,341.05 261.17,356.09 261.62,368.12 262.97,359.1 263.87,369.62 264.4,370.53 264.92,372.63 265.68,374.25 266.43,376.39 267.18,376.4 267.93,377.89 268.68,368.12 269.44,369.59 270.19,372.63 270.94,369.39 271.69,369.62 272.44,370.44 273.2,375.64 274.4,366.62 275.15,362.6 275.9,359.1 276.2,355.34 276.8,352.67 277.41,349.32 277.41,335.79 277.41,329.32 279.21,343.31 279.59,349.82 279.96,351.58 280.49,352.53 281.02,356.09 281.47,355.25 281.92,359.85 282.22,351.58 283.42,325.26 284.02,344.06 284.47,342 284.92,339.55 285.98,353.08 287.03,342.56 287.48,332.03 287.48,317.26 288.31,334.63 289.14,321.39 290.46,307.33 291.29,320.57 291.87,317.07 292.44,314.78 292.86,316.89 293.27,318.09 294.1,332.15 294.51,334.52 294.93,337.94 294.93,343.73 295.59,344.57 296.25,348.69 296.83,349.86 297.41,352.82 298.56,343.73 299.06,356.96 300.22,343.73 300.72,347.25 301.21,348.69 302.04,337.94 302.37,352.82 303.53,367.71 304.02,359.44 304.85,371.02 305.68,361.92 306.09,358.14 306.51,353.65 307.33,350.74 308.16,350.34 308.82,353.96 309.48,355.31 309.81,349.7 310.14,347.86 311.47,360.27 311.88,362.47 312.3,366.06 313.45,375.16 314.78,365.23 315.6,375.16 316.18,372.11 316.76,368.54 317.75,393.35 318.09,371.85 319.24,350.34 319.74,365.23 321.06,375.98 321.72,361.92 322.22,379.62 322.72,356.13 323.3,351.05 323.88,349.52 325.03,337.94 326.36,352 326.77,346.31 327.18,343.73 327.76,345.4 328.34,347.03 329.33,332.15 330.49,309.48 331.32,323.88 331.73,327.91 332.15,332.15 332.64,342.07 333.8,359.44 334.21,355.39 334.63,352 335.12,367.71 335.87,365.74 336.61,365.23 336.61,352 337.61,334.63 338.18,336.5 338.76,341.24 339.34,338.57 339.92,337.94 340.42,346.03 340.91,346.21 342.07,328.84 342.57,352 343.15,348.7 343.73,347.03 344.31,349.82 344.88,348.69 345.38,345.86 345.88,344.55 346.46,343.85 347.03,339.59 347.45,342.43 347.86,342.07 348.69,332.97 349.27,331.91 349.85,329.67 350.84,320.57 352,332.15 352.41,331.73 352.82,332.97 353.65,319.74 354.07,320.84 354.48,325.53 355.31,290.29 356.46,303.2 357.46,323.88 358.04,322.65 358.61,318.91 359.44,334.63 360.27,303.2 360.68,298.22 361.1,296.58 362.42,308.99 363.58,296.58 364.74,306.51 365.23,302.37 365.73,301.54 365.73,342.07 366.56,320.57 367.71,337.94 368.13,341.98 368.54,342.07 369.7,352 370.19,351.83 370.69,347.86 371.02,352.05 371.35,356.13 372.68,346.21 373.01,361.1 373.67,364.91 374.33,369.37 374.74,365.61 375.16,363.58 375.65,352 376.81,342.57 377.64,355.31 378.05,351.63 378.47,347.03 379.62,359.44 379.62,375.16 380.29,378.25 380.95,382.6 381.61,378.98 382.27,379.29 382.85,379.54 383.43,381.77 383.84,381.27 384.26,380.12 384.26,356.13 385.58,346.21 386.16,340.01 386.74,337.94 388.64,313.12 389.3,311.02 389.96,311.47 390.29,322.22 390.96,323.62 391.62,324.7 391.62,342.9 392.28,340.96 392.94,334.63 393.27,338.58 393.6,342.07 394.1,346.25 394.59,350.34 395.17,352.03 395.75,348.69 396.25,337.11 396.91,324.7 398.23,311.47 398.56,300.72 399.89,286.65 400.3,288.17 400.72,292.44 401.21,317.26 401.87,304.02 402.54,299.76 403.2,297.41 404.52,322.22 405.68,301.54 405.68,323.88 407.33,334.63 407.33,350.34 408.6,382.5 408.7,391.5 409.05,393.75 409.4,393.8 410.2,414.1 410.75,417 411.3,417.1 412.4,407 413.9,377.3 414.45,377.89 415,377.3 415.9,396 416.9,375 417.26,369.37 417.26,364.4 418.91,355.31 418.91,334.63 419.49,327.91 420.07,328.01 421.72,352.82 423.05,317.26 423.38,332.97 424.37,347.03 425.53,329.67 425.94,328.97 426.36,326.36 427.68,336.28 428.34,313.12 429.33,324.7 430,334.63 430.66,331.36 431.32,326.36 432.15,322.69 432.97,318.91 433.8,329.67 434.21,326.4 434.63,321.39 435.95,332.97 436.28,338.53 436.61,340.42 437.61,323.38 438.76,337.94 439.34,340.9 439.92,343.73 439.92,352.82 440.58,349.13 441.24,347.86 441.66,347.54 442.07,352 442.07,358.61 442.65,362.01 443.23,365.23 444.22,356.13 444.8,357.27 445.38,360.27 446.54,371.85 447.53,361.1 448.69,374.33 449.27,371.12 449.85,369.37 450.34,382.6 450.92,377.41 451.5,375.16 452,363.58 452.58,361.87 453.16,359.44 454.15,371.85 454.73,370.32 455.31,366.89 456.46,352 457.46,329.67 458.04,331.47 458.61,332.15 459.11,322.22 460.27,306.51 460.77,314.78 461.92,300.72 462.42,309.81 463.08,322.22 463.58,328.01 464.74,344.55 464.74,371.02 465.4,373.7 466.06,379.29 466.39,359.44 467.05,361.84 467.71,361.92 469.04,374.33 469.37,353.65 470.03,356.54 470.69,358.61 471.85,369.37 472.26,364.07 472.68,365.23 473.5,363.52 474.33,360.27 474.74,358.04 475.16,361.1 475.16,346.21 475.74,347.62 476.32,352 477.31,332.97 477.64,320.57 478.47,336.28 479.29,304.85 479.62,345.38 480.95,323.88 481.36,329.39 481.77,332.15 482.93,341.24 483.43,333.8 484.26,336.72 485.08,337.94 485.08,338.16 485.83,348.91 486.32,364.63 486.9,361.31 487.48,359.67 487.98,368.76 489.14,383.65 489.63,415.08 490.21,411.87 490.79,410.95 491.29,386.13 491.87,389.48 492.44,391.92 493.6,401.02 493.6,379.52 493.6,350.57 494.26,349.06 494.93,352.22 495.34,349.45 495.75,345.6 496.33,347.71 496.91,350.57 497.57,348.63 498.23,344.78 498.9,340.48 499.56,336.51 500.22,346.43 500.72,342.95 501.21,342.3 501.79,345.87 502.37,348.91 503.53,339.81 504.02,337.7 504.52,336.51 504.85,331.35 505.18,329.89 505.84,328.79 506.51,330.72 507.33,340.64 507.91,339.33 508.49,340.64 509.15,344.43 509.81,348.09 509.81,359.67 510.23,357.77 510.64,353.88 511.14,363.8 512.3,377.86 512.3,391.92 513.95,418.39 515.11,401.02 515.11,387.79 516.43,353.88 516.76,343.95 517.42,340.6 518.09,337.33 518.42,331.87 518.91,344.78 519.74,358.01 519.74,367.94 520.4,367.2 521.06,369.59 521.39,369.92 521.72,371.24 522.22,375.29 522.72,377.86 523.88,359.67 524.7,377.03 525.53,359.67 526.36,369.59 526.77,370.16 527.18,367.94 528.34,339.81 529.33,354.7 529.67,332.37 530.99,320.79 531.07,314.54 531.43,320.56 532.03,320.84 532.63,323.56 532.97,333.2 533.39,333.98 533.8,334.02 534.3,350.57 534.88,347.58 535.45,345.6 536.03,344.87 536.61,349.74 537.94,358.84 538.76,381.17 539.59,362.15 540.42,372.9 541.24,385.31 541.66,380.73 542.07,379.52 542.57,394.4 543.15,395.74 543.73,398.54 544.22,394.4 545.38,406.81 545.88,415.08 546.46,412.34 547.03,410.95 547.53,414.26 548.19,381.17 548.69,369.59 549.27,372.8 549.85,377.03 550.84,367.11 551.42,367.98 552,370.42 552.41,369.65 552.82,367.94 553.49,367.93 554.15,370.42 554.81,360.49 555.31,361.31 555.8,366.28 556.38,369.42 556.96,371.24 557.79,362.15 558.61,348.09 559.77,362.15 560.27,353.05 561.43,377.86 561.43,362.15 562.42,336.51 563,337.36 563.58,339.81 564.4,316.65 564.4,306.12 564.75,314.54 565.23,314.07 565.71,311.53 565.71,323.56 566.55,323.57 567.38,325.75 567.71,333.2 568.13,338.21 568.54,339.81 569.12,337.79 569.7,338.99 570.69,353.05 571.02,346.43 571.85,337.33 572.26,332.87 572.68,331.54 572.93,310.33 574.33,371.24 574.66,360.49 575.16,357.26 575.65,352.22 577.31,338.16 577.89,343.37 578.47,343.95 578.96,324.93 578.96,324.77 580.12,347.26 580.53,342.91 580.95,340.64 581.36,344.34 581.77,343.95 582.35,343.86 582.93,339.81 583.92,327.41 583.92,327.77 584.36,309.13 584.36,300.11 585.92,278.45 585.92,268.59 587.13,289.52 588.57,306.12 588.81,311.53 590.38,321.76 590.38,331.98 590.54,331.54 590.87,348.09 591.53,352.01 592.2,353.88 592.2,369.59 592.78,368.48 593.35,367.94 593.77,367.16 594.18,372.07 597.59,329.58 599.25,340.11 599.77,341.08 600.3,346.13 601.8,326.58 602.18,328.16 602.56,331.84 602.86,348.38 603.61,346.03 604.36,342.37 604.81,353.65 605.56,355.65 606.32,358.16 606.77,364.92 607.29,366.32 607.82,369.44 607.82,376.95 608.35,374.43 608.87,371.69 610.08,361.17 610.83,357.51 611.58,358.16 611.88,334.85 612.63,339.1 613.38,342.37 613.38,347.63 614.14,345.26 614.89,345.38 614.89,363.42 616.09,378.46 616.69,377.85 617.29,373.95 618.2,370.01 619.1,365.68 619.7,361.67 620.3,359.66 621.8,335.6 622.11,338.61 623.31,320.56 623.61,327.33 624.36,328.51 625.11,331.09 625.11,343.12 625.86,341.4 626.62,343.87 627.22,345.97 627.82,347.63 628.12,369.44 629.32,356.65 630.38,369.44 630.38,381.02 632.33,355.15 632.33,323.57 632.33,329.59 633.38,313.35 633.38,333.35 634.36,327.9 635.34,325.08 636.39,339.36 636.84,344.62 637.59,345.98 638.35,347.63 639.4,360.41 640.15,362.27 640.9,361.17 641.28,363.86 641.65,365.68 641.95,372.44 642.56,371.18 643.16,368.68 643.53,369.86 643.91,364.17 644.96,346.13 645.41,334.85 646.47,359.66 646.92,346.88 647.97,334.85 649.47,349.14 649.47,367.93 650.68,353.65 651.28,357.55 651.88,359.66 652.18,359.23 652.48,355.9 652.48,363.42" fill="none" stroke="#0a0a0a" stroke-width="1.0" stroke-linejoin="round"/>
<path d="M105.72 400.91h3v3h-3zM105.72 384.67h3v3h-3zM106.02 371.88h3v3h-3zM107.52 349.33h3v3h-3zM108.27 375.64h3v3h-3zM108.65 378.51h3v3h-3zM109.03 380.15h3v3h-3zM109.63 375.13h3v3h-3zM110.23 371.88h3v3h-3zM110.98 375.58h3v3h-3zM111.73 378.65h3v3h-3zM112.79 387.67h3v3h-3zM113.09 383.16h3v3h-3zM114.74 366.62h3v3h-3zM114.74 374.14h3v3h-3zM116.24 344.82h3v3h-3zM116.55 338.05h3v3h-3zM117.15 335.84h3v3h-3zM117.75 338.05h3v3h-3zM118.8 374.89h3v3h-3zM119.55 371.73h3v3h-3zM120.3 366.62h3v3h-3zM120.76 353.09h3v3h-3zM121.66 353.72h3v3h-3zM122.56 358.35h3v3h-3zM122.94 356.1h3v3h-3zM123.31 353.84h3v3h-3zM125.57 342.56h3v3h-3zM126.32 340.52h3v3h-3zM127.07 338.8h3v3h-3zM127.37 362.11h3v3h-3zM129.33 371.88h3v3h-3zM129.85 368.2h3v3h-3zM130.38 366.62h3v3h-3zM131.13 366.22h3v3h-3zM131.88 358.35h3v3h-3zM132.64 353.81h3v3h-3zM133.39 350.83h3v3h-3zM134.59 362.86h3v3h-3zM135.72 362.72h3v3h-3zM136.85 361.36h3v3h-3zM137.82 364.29h3v3h-3zM138.8 364.36h3v3h-3zM138.8 379.4h3v3h-3zM139.55 376.32h3v3h-3zM140.3 376.39h3v3h-3zM141.06 375.88h3v3h-3zM141.81 371.88h3v3h-3zM143.16 383.91h3v3h-3zM143.76 379.62h3v3h-3zM144.36 375.64h3v3h-3zM145.12 374.33h3v3h-3zM145.87 370.38h3v3h-3zM146.62 372.95h3v3h-3zM147.37 377.9h3v3h-3zM148.12 372.8h3v3h-3zM148.88 370.38h3v3h-3zM149.63 373.08h3v3h-3zM150.38 372.64h3v3h-3zM151.13 370.66h3v3h-3zM151.88 367.37h3v3h-3zM153.69 357.9h3v3h-3zM154.89 367.37h3v3h-3zM155.64 371.31h3v3h-3zM156.39 374.89h3v3h-3zM157.15 373.84h3v3h-3zM157.9 371.13h3v3h-3zM158.95 390.68h3v3h-3zM160.15 380.15h3v3h-3zM160.91 380.84h3v3h-3zM161.66 380.15h3v3h-3zM162.41 378.65h3v3h-3zM163.16 380.15h3v3h-3zM163.91 381.04h3v3h-3zM164.67 387.67h3v3h-3zM165.04 381.73h3v3h-3zM165.42 380.15h3v3h-3zM166.47 351.88h3v3h-3zM167.97 368.12h3v3h-3zM168.58 369.93h3v3h-3zM169.18 376.39h3v3h-3zM170.68 361.36h3v3h-3zM171.43 376.39h3v3h-3zM171.96 376.52h3v3h-3zM172.48 382.41h3v3h-3zM173.09 380.82h3v3h-3zM173.69 380.91h3v3h-3zM174.29 383.23h3v3h-3zM174.89 386.92h3v3h-3zM175.19 395.94h3v3h-3zM175.94 399.65h3v3h-3zM176.7 403.46h3v3h-3zM177.45 404.87h3v3h-3zM178.2 405.72h3v3h-3zM178.8 407.1h3v3h-3zM179.4 409.48h3v3h-3zM179.7 402.71h3v3h-3zM180.3 399.75h3v3h-3zM180.91 397.45h3v3h-3zM181.21 389.18h3v3h-3zM181.58 387.02h3v3h-3zM181.96 384.67h3v3h-3zM182.33 387.13h3v3h-3zM182.71 392.18h3v3h-3zM184.21 379.4h3v3h-3zM184.59 374.71h3v3h-3zM184.97 371.88h3v3h-3zM186.47 383.16h3v3h-3zM186.85 386.59h3v3h-3zM187.22 389.93h3v3h-3zM187.75 387.54h3v3h-3zM188.27 386.92h3v3h-3zM188.27 365.12h3v3h-3zM189.1 365.88h3v3h-3zM189.93 368.12h3v3h-3zM190.98 377.9h3v3h-3zM191.51 374h3v3h-3zM192.03 370.38h3v3h-3zM193.01 368.73h3v3h-3zM193.99 363.61h3v3h-3zM194.74 365.53h3v3h-3zM195.49 366.62h3v3h-3zM196.51 351.88h3v3h-3zM196.81 370.38h3v3h-3zM197.56 365.81h3v3h-3zM198.31 362.11h3v3h-3zM198.31 376.39h3v3h-3zM199.06 377.51h3v3h-3zM199.82 380.15h3v3h-3zM200.42 375.87h3v3h-3zM201.02 371.88h3v3h-3zM201.02 384.67h3v3h-3zM201.77 385.7h3v3h-3zM202.52 380.91h3v3h-3zM203.12 377.94h3v3h-3zM203.73 383.16h3v3h-3zM204.03 386.11h3v3h-3zM204.33 387.67h3v3h-3zM204.33 395.19h3v3h-3zM204.93 393.24h3v3h-3zM205.53 390.68h3v3h-3zM206.13 395.57h3v3h-3zM206.73 398.2h3v3h-3zM207.79 386.92h3v3h-3zM208.16 388.44h3v3h-3zM208.54 392.94h3v3h-3zM209.44 393.2h3v3h-3zM210.34 387.97h3v3h-3zM210.79 382.41h3v3h-3zM211.32 381.46h3v3h-3zM211.85 377.9h3v3h-3zM212.45 376.33h3v3h-3zM213.05 374.89h3v3h-3zM214.25 365.12h3v3h-3zM215.3 375.64h3v3h-3zM216.06 365.12h3v3h-3zM216.66 368.33h3v3h-3zM217.26 371.13h3v3h-3zM218.31 367.94h3v3h-3zM219.36 366.62h3v3h-3zM219.97 368.94h3v3h-3zM220.57 371.13h3v3h-3zM221.32 370.57h3v3h-3zM222.07 370.38h3v3h-3zM223.12 379.4h3v3h-3zM223.58 382.88h3v3h-3zM224.03 383.91h3v3h-3zM225.08 374.14h3v3h-3zM225.45 376.86h3v3h-3zM225.83 378.65h3v3h-3zM226.36 376.29h3v3h-3zM226.88 374.14h3v3h-3zM228.39 383.91h3v3h-3zM228.39 367.37h3v3h-3zM229.59 377.15h3v3h-3zM231.09 363.61h3v3h-3zM231.85 368.63h3v3h-3zM232.6 371.88h3v3h-3zM234.1 358.35h3v3h-3zM234.85 361.7h3v3h-3zM235.61 363.61h3v3h-3zM236.36 361.65h3v3h-3zM237.11 359.1h3v3h-3zM237.86 358.62h3v3h-3zM238.61 362.11h3v3h-3zM239.36 366.08h3v3h-3zM240.12 367.37h3v3h-3zM240.72 362.47h3v3h-3zM241.32 360.61h3v3h-3zM241.85 362.3h3v3h-3zM242.37 366.62h3v3h-3zM243.12 356.09h3v3h-3zM243.88 354.45h3v3h-3zM244.63 353.09h3v3h-3zM245.38 353.38h3v3h-3zM246.13 352.33h3v3h-3zM247.33 341.06h3v3h-3zM247.86 345.89h3v3h-3zM248.39 347.07h3v3h-3zM249.89 334.29h3v3h-3zM250.64 336.23h3v3h-3zM251.39 342.56h3v3h-3zM252.9 332.03h3v3h-3zM253.65 333.19h3v3h-3zM254.4 330.53h3v3h-3zM255.91 359.1h3v3h-3zM256.66 329.03h3v3h-3zM257.64 329.5h3v3h-3zM258.61 325.72h3v3h-3zM258.61 339.55h3v3h-3zM259.67 354.59h3v3h-3zM260.12 366.62h3v3h-3zM261.47 357.6h3v3h-3zM262.37 368.12h3v3h-3zM262.9 369.03h3v3h-3zM263.42 371.13h3v3h-3zM264.18 372.75h3v3h-3zM264.93 374.89h3v3h-3zM265.68 374.9h3v3h-3zM266.43 376.39h3v3h-3zM267.18 366.62h3v3h-3zM267.94 368.09h3v3h-3zM268.69 371.13h3v3h-3zM269.44 367.89h3v3h-3zM270.19 368.12h3v3h-3zM270.94 368.94h3v3h-3zM271.7 374.14h3v3h-3zM272.9 365.12h3v3h-3zM273.65 361.1h3v3h-3zM274.4 357.6h3v3h-3zM274.7 353.84h3v3h-3zM275.3 351.17h3v3h-3zM275.91 347.82h3v3h-3zM275.91 334.29h3v3h-3zM275.91 327.82h3v3h-3zM277.71 341.81h3v3h-3zM278.09 348.32h3v3h-3zM278.46 350.08h3v3h-3zM278.99 351.03h3v3h-3zM279.52 354.59h3v3h-3zM279.97 353.75h3v3h-3zM280.42 358.35h3v3h-3zM280.72 350.08h3v3h-3zM281.92 323.76h3v3h-3zM282.52 342.56h3v3h-3zM282.97 340.5h3v3h-3zM283.42 338.05h3v3h-3zM284.48 351.58h3v3h-3zM285.53 341.06h3v3h-3zM285.98 330.53h3v3h-3zM285.98 315.76h3v3h-3zM286.81 333.13h3v3h-3zM287.64 319.89h3v3h-3zM288.96 305.83h3v3h-3zM289.79 319.07h3v3h-3zM290.37 315.57h3v3h-3zM290.94 313.28h3v3h-3zM291.36 315.39h3v3h-3zM291.77 316.59h3v3h-3zM292.6 330.65h3v3h-3zM293.01 333.02h3v3h-3zM293.43 336.44h3v3h-3zM293.43 342.23h3v3h-3zM294.09 343.07h3v3h-3zM294.75 347.19h3v3h-3zM295.33 348.36h3v3h-3zM295.91 351.32h3v3h-3zM297.06 342.23h3v3h-3zM297.56 355.46h3v3h-3zM298.72 342.23h3v3h-3zM299.22 345.75h3v3h-3zM299.71 347.19h3v3h-3zM300.54 336.44h3v3h-3zM300.87 351.32h3v3h-3zM302.03 366.21h3v3h-3zM302.52 357.94h3v3h-3zM303.35 369.52h3v3h-3zM304.18 360.42h3v3h-3zM304.59 356.64h3v3h-3zM305.01 352.15h3v3h-3zM305.83 349.24h3v3h-3zM306.66 348.84h3v3h-3zM307.32 352.46h3v3h-3zM307.98 353.81h3v3h-3zM308.31 348.2h3v3h-3zM308.64 346.36h3v3h-3zM309.97 358.77h3v3h-3zM310.38 360.97h3v3h-3zM310.8 364.56h3v3h-3zM311.95 373.66h3v3h-3zM313.28 363.73h3v3h-3zM314.1 373.66h3v3h-3zM314.68 370.61h3v3h-3zM315.26 367.04h3v3h-3zM316.25 391.85h3v3h-3zM316.59 370.35h3v3h-3zM317.74 348.84h3v3h-3zM318.24 363.73h3v3h-3zM319.56 374.48h3v3h-3zM320.22 360.42h3v3h-3zM320.72 378.12h3v3h-3zM321.22 354.63h3v3h-3zM321.8 349.55h3v3h-3zM322.38 348.02h3v3h-3zM323.53 336.44h3v3h-3zM324.86 350.5h3v3h-3zM325.27 344.81h3v3h-3zM325.68 342.23h3v3h-3zM326.26 343.9h3v3h-3zM326.84 345.53h3v3h-3zM327.83 330.65h3v3h-3zM328.99 307.98h3v3h-3zM329.82 322.38h3v3h-3zM330.23 326.41h3v3h-3zM330.65 330.65h3v3h-3zM331.14 340.57h3v3h-3zM332.3 357.94h3v3h-3zM332.71 353.89h3v3h-3zM333.13 350.5h3v3h-3zM333.62 366.21h3v3h-3zM334.37 364.24h3v3h-3zM335.11 363.73h3v3h-3zM335.11 350.5h3v3h-3zM336.11 333.13h3v3h-3zM336.68 335h3v3h-3zM337.26 339.74h3v3h-3zM337.84 337.07h3v3h-3zM338.42 336.44h3v3h-3zM338.92 344.53h3v3h-3zM339.41 344.71h3v3h-3zM340.57 327.34h3v3h-3zM341.07 350.5h3v3h-3zM341.65 347.2h3v3h-3zM342.23 345.53h3v3h-3zM342.81 348.32h3v3h-3zM343.38 347.19h3v3h-3zM343.88 344.36h3v3h-3zM344.38 343.05h3v3h-3zM344.96 342.35h3v3h-3zM345.53 338.09h3v3h-3zM345.95 340.93h3v3h-3zM346.36 340.57h3v3h-3zM347.19 331.47h3v3h-3zM347.77 330.41h3v3h-3zM348.35 328.17h3v3h-3zM349.34 319.07h3v3h-3zM350.5 330.65h3v3h-3zM350.91 330.23h3v3h-3zM351.32 331.47h3v3h-3zM352.15 318.24h3v3h-3zM352.57 319.34h3v3h-3zM352.98 324.03h3v3h-3zM353.81 288.79h3v3h-3zM354.96 301.7h3v3h-3zM355.96 322.38h3v3h-3zM356.54 321.15h3v3h-3zM357.11 317.41h3v3h-3zM357.94 333.13h3v3h-3zM358.77 301.7h3v3h-3zM359.18 296.72h3v3h-3zM359.6 295.08h3v3h-3zM360.92 307.49h3v3h-3zM362.08 295.08h3v3h-3zM363.24 305.01h3v3h-3zM363.73 300.87h3v3h-3zM364.23 300.04h3v3h-3zM364.23 340.57h3v3h-3zM365.06 319.07h3v3h-3zM366.21 336.44h3v3h-3zM366.63 340.48h3v3h-3zM367.04 340.57h3v3h-3zM368.2 350.5h3v3h-3zM368.69 350.33h3v3h-3zM369.19 346.36h3v3h-3zM369.52 350.55h3v3h-3zM369.85 354.63h3v3h-3zM371.18 344.71h3v3h-3zM371.51 359.6h3v3h-3zM372.17 363.41h3v3h-3zM372.83 367.87h3v3h-3zM373.24 364.11h3v3h-3zM373.66 362.08h3v3h-3zM374.15 350.5h3v3h-3zM375.31 341.07h3v3h-3zM376.14 353.81h3v3h-3zM376.55 350.13h3v3h-3zM376.97 345.53h3v3h-3zM378.12 357.94h3v3h-3zM378.12 373.66h3v3h-3zM378.79 376.75h3v3h-3zM379.45 381.1h3v3h-3zM380.11 377.48h3v3h-3zM380.77 377.79h3v3h-3zM381.35 378.04h3v3h-3zM381.93 380.27h3v3h-3zM382.34 379.77h3v3h-3zM382.76 378.62h3v3h-3zM382.76 354.63h3v3h-3zM384.08 344.71h3v3h-3zM384.66 338.51h3v3h-3zM385.24 336.44h3v3h-3zM387.14 311.62h3v3h-3zM387.8 309.52h3v3h-3zM388.46 309.97h3v3h-3zM388.79 320.72h3v3h-3zM389.46 322.12h3v3h-3zM390.12 323.2h3v3h-3zM390.12 341.4h3v3h-3zM390.78 339.46h3v3h-3zM391.44 333.13h3v3h-3zM391.77 337.08h3v3h-3zM392.1 340.57h3v3h-3zM392.6 344.75h3v3h-3zM393.09 348.84h3v3h-3zM393.67 350.53h3v3h-3zM394.25 347.19h3v3h-3zM394.75 335.61h3v3h-3zM395.41 323.2h3v3h-3zM396.73 309.97h3v3h-3zM397.06 299.22h3v3h-3zM398.39 285.15h3v3h-3zM398.8 286.67h3v3h-3zM399.22 290.94h3v3h-3zM399.71 315.76h3v3h-3zM400.37 302.52h3v3h-3zM401.04 298.26h3v3h-3zM401.7 295.91h3v3h-3zM403.02 320.72h3v3h-3zM404.18 300.04h3v3h-3zM404.18 322.38h3v3h-3zM405.83 333.13h3v3h-3zM405.83 348.84h3v3h-3zM407.1 381h3v3h-3zM407.2 390h3v3h-3zM407.55 392.25h3v3h-3zM407.9 392.3h3v3h-3zM408.7 412.6h3v3h-3zM409.25 415.5h3v3h-3zM409.8 415.6h3v3h-3zM410.9 405.5h3v3h-3zM412.4 375.8h3v3h-3zM412.95 376.39h3v3h-3zM413.5 375.8h3v3h-3zM414.4 394.5h3v3h-3zM415.4 373.5h3v3h-3zM415.76 367.87h3v3h-3zM415.76 362.9h3v3h-3zM417.41 353.81h3v3h-3zM417.41 333.13h3v3h-3zM417.99 326.41h3v3h-3zM418.57 326.51h3v3h-3zM420.22 351.32h3v3h-3zM421.55 315.76h3v3h-3zM421.88 331.47h3v3h-3zM422.87 345.53h3v3h-3zM424.03 328.17h3v3h-3zM424.44 327.47h3v3h-3zM424.86 324.86h3v3h-3zM426.18 334.78h3v3h-3zM426.84 311.62h3v3h-3zM427.83 323.2h3v3h-3zM428.5 333.13h3v3h-3zM429.16 329.86h3v3h-3zM429.82 324.86h3v3h-3zM430.65 321.19h3v3h-3zM431.47 317.41h3v3h-3zM432.3 328.17h3v3h-3zM432.71 324.9h3v3h-3zM433.13 319.89h3v3h-3zM434.45 331.47h3v3h-3zM434.78 337.03h3v3h-3zM435.11 338.92h3v3h-3zM436.11 321.88h3v3h-3zM437.26 336.44h3v3h-3zM437.84 339.4h3v3h-3zM438.42 342.23h3v3h-3zM438.42 351.32h3v3h-3zM439.08 347.63h3v3h-3zM439.74 346.36h3v3h-3zM440.16 346.04h3v3h-3zM440.57 350.5h3v3h-3zM440.57 357.11h3v3h-3zM441.15 360.51h3v3h-3zM441.73 363.73h3v3h-3zM442.72 354.63h3v3h-3zM443.3 355.77h3v3h-3zM443.88 358.77h3v3h-3zM445.04 370.35h3v3h-3zM446.03 359.6h3v3h-3zM447.19 372.83h3v3h-3zM447.77 369.62h3v3h-3zM448.35 367.87h3v3h-3zM448.84 381.1h3v3h-3zM449.42 375.91h3v3h-3zM450 373.66h3v3h-3zM450.5 362.08h3v3h-3zM451.08 360.37h3v3h-3zM451.66 357.94h3v3h-3zM452.65 370.35h3v3h-3zM453.23 368.82h3v3h-3zM453.81 365.39h3v3h-3zM454.96 350.5h3v3h-3zM455.96 328.17h3v3h-3zM456.54 329.97h3v3h-3zM457.11 330.65h3v3h-3zM457.61 320.72h3v3h-3zM458.77 305.01h3v3h-3zM459.27 313.28h3v3h-3zM460.42 299.22h3v3h-3zM460.92 308.31h3v3h-3zM461.58 320.72h3v3h-3zM462.08 326.51h3v3h-3zM463.24 343.05h3v3h-3zM463.24 369.52h3v3h-3zM463.9 372.2h3v3h-3zM464.56 377.79h3v3h-3zM464.89 357.94h3v3h-3zM465.55 360.34h3v3h-3zM466.21 360.42h3v3h-3zM467.54 372.83h3v3h-3zM467.87 352.15h3v3h-3zM468.53 355.04h3v3h-3zM469.19 357.11h3v3h-3zM470.35 367.87h3v3h-3zM470.76 362.57h3v3h-3zM471.18 363.73h3v3h-3zM472 362.02h3v3h-3zM472.83 358.77h3v3h-3zM473.24 356.54h3v3h-3zM473.66 359.6h3v3h-3zM473.66 344.71h3v3h-3zM474.24 346.12h3v3h-3zM474.82 350.5h3v3h-3zM475.81 331.47h3v3h-3zM476.14 319.07h3v3h-3zM476.97 334.78h3v3h-3zM477.79 303.35h3v3h-3zM478.12 343.88h3v3h-3zM479.45 322.38h3v3h-3zM479.86 327.89h3v3h-3zM480.27 330.65h3v3h-3zM481.43 339.74h3v3h-3zM481.93 332.3h3v3h-3zM482.76 335.22h3v3h-3zM483.58 336.44h3v3h-3zM483.58 336.66h3v3h-3zM484.33 347.41h3v3h-3zM484.82 363.13h3v3h-3zM485.4 359.81h3v3h-3zM485.98 358.17h3v3h-3zM486.48 367.26h3v3h-3zM487.64 382.15h3v3h-3zM488.13 413.58h3v3h-3zM488.71 410.37h3v3h-3zM489.29 409.45h3v3h-3zM489.79 384.63h3v3h-3zM490.37 387.98h3v3h-3zM490.94 390.42h3v3h-3zM492.1 399.52h3v3h-3zM492.1 378.02h3v3h-3zM492.1 349.07h3v3h-3zM492.76 347.56h3v3h-3zM493.43 350.72h3v3h-3zM493.84 347.95h3v3h-3zM494.25 344.1h3v3h-3zM494.83 346.21h3v3h-3zM495.41 349.07h3v3h-3zM496.07 347.13h3v3h-3zM496.73 343.28h3v3h-3zM497.4 338.98h3v3h-3zM498.06 335.01h3v3h-3zM498.72 344.93h3v3h-3zM499.22 341.45h3v3h-3zM499.71 340.8h3v3h-3zM500.29 344.37h3v3h-3zM500.87 347.41h3v3h-3zM502.03 338.31h3v3h-3zM502.52 336.2h3v3h-3zM503.02 335.01h3v3h-3zM503.35 329.85h3v3h-3zM503.68 328.39h3v3h-3zM504.34 327.29h3v3h-3zM505.01 329.22h3v3h-3zM505.83 339.14h3v3h-3zM506.41 337.83h3v3h-3zM506.99 339.14h3v3h-3zM507.65 342.93h3v3h-3zM508.31 346.59h3v3h-3zM508.31 358.17h3v3h-3zM508.73 356.27h3v3h-3zM509.14 352.38h3v3h-3zM509.64 362.3h3v3h-3zM510.8 376.36h3v3h-3zM510.8 390.42h3v3h-3zM512.45 416.89h3v3h-3zM513.61 399.52h3v3h-3zM513.61 386.29h3v3h-3zM514.93 352.38h3v3h-3zM515.26 342.45h3v3h-3zM515.92 339.1h3v3h-3zM516.59 335.83h3v3h-3zM516.92 330.37h3v3h-3zM517.41 343.28h3v3h-3zM518.24 356.51h3v3h-3zM518.24 366.44h3v3h-3zM518.9 365.7h3v3h-3zM519.56 368.09h3v3h-3zM519.89 368.42h3v3h-3zM520.22 369.74h3v3h-3zM520.72 373.79h3v3h-3zM521.22 376.36h3v3h-3zM522.38 358.17h3v3h-3zM523.2 375.53h3v3h-3zM524.03 358.17h3v3h-3zM524.86 368.09h3v3h-3zM525.27 368.66h3v3h-3zM525.68 366.44h3v3h-3zM526.84 338.31h3v3h-3zM527.83 353.2h3v3h-3zM528.17 330.87h3v3h-3zM529.49 319.29h3v3h-3zM529.57 313.04h3v3h-3zM529.93 319.06h3v3h-3zM530.53 319.34h3v3h-3zM531.13 322.06h3v3h-3zM531.47 331.7h3v3h-3zM531.89 332.48h3v3h-3zM532.3 332.52h3v3h-3zM532.8 349.07h3v3h-3zM533.38 346.08h3v3h-3zM533.95 344.1h3v3h-3zM534.53 343.37h3v3h-3zM535.11 348.24h3v3h-3zM536.44 357.34h3v3h-3zM537.26 379.67h3v3h-3zM538.09 360.65h3v3h-3zM538.92 371.4h3v3h-3zM539.74 383.81h3v3h-3zM540.16 379.23h3v3h-3zM540.57 378.02h3v3h-3zM541.07 392.9h3v3h-3zM541.65 394.24h3v3h-3zM542.23 397.04h3v3h-3zM542.72 392.9h3v3h-3zM543.88 405.31h3v3h-3zM544.38 413.58h3v3h-3zM544.96 410.84h3v3h-3zM545.53 409.45h3v3h-3zM546.03 412.76h3v3h-3zM546.69 379.67h3v3h-3zM547.19 368.09h3v3h-3zM547.77 371.3h3v3h-3zM548.35 375.53h3v3h-3zM549.34 365.61h3v3h-3zM549.92 366.48h3v3h-3zM550.5 368.92h3v3h-3zM550.91 368.15h3v3h-3zM551.32 366.44h3v3h-3zM551.99 366.43h3v3h-3zM552.65 368.92h3v3h-3zM553.31 358.99h3v3h-3zM553.81 359.81h3v3h-3zM554.3 364.78h3v3h-3zM554.88 367.92h3v3h-3zM555.46 369.74h3v3h-3zM556.29 360.65h3v3h-3zM557.11 346.59h3v3h-3zM558.27 360.65h3v3h-3zM558.77 351.55h3v3h-3zM559.93 376.36h3v3h-3zM559.93 360.65h3v3h-3zM560.92 335.01h3v3h-3zM561.5 335.86h3v3h-3zM562.08 338.31h3v3h-3zM562.9 315.15h3v3h-3zM562.9 304.62h3v3h-3zM563.25 313.04h3v3h-3zM563.73 312.57h3v3h-3zM564.21 310.03h3v3h-3zM564.21 322.06h3v3h-3zM565.05 322.07h3v3h-3zM565.88 324.25h3v3h-3zM566.21 331.7h3v3h-3zM566.63 336.71h3v3h-3zM567.04 338.31h3v3h-3zM567.62 336.29h3v3h-3zM568.2 337.49h3v3h-3zM569.19 351.55h3v3h-3zM569.52 344.93h3v3h-3zM570.35 335.83h3v3h-3zM570.76 331.37h3v3h-3zM571.18 330.04h3v3h-3zM571.43 308.83h3v3h-3zM572.83 369.74h3v3h-3zM573.16 358.99h3v3h-3zM573.66 355.76h3v3h-3zM574.15 350.72h3v3h-3zM575.81 336.66h3v3h-3zM576.39 341.87h3v3h-3zM576.97 342.45h3v3h-3zM577.46 323.43h3v3h-3zM577.46 323.27h3v3h-3zM578.62 345.76h3v3h-3zM579.03 341.41h3v3h-3zM579.45 339.14h3v3h-3zM579.86 342.84h3v3h-3zM580.27 342.45h3v3h-3zM580.85 342.36h3v3h-3zM581.43 338.31h3v3h-3zM582.42 325.91h3v3h-3zM582.42 326.27h3v3h-3zM582.86 307.63h3v3h-3zM582.86 298.61h3v3h-3zM584.42 276.95h3v3h-3zM584.42 267.09h3v3h-3zM585.63 288.02h3v3h-3zM587.07 304.62h3v3h-3zM587.31 310.03h3v3h-3zM588.88 320.26h3v3h-3zM588.88 330.48h3v3h-3zM589.04 330.04h3v3h-3zM589.37 346.59h3v3h-3zM590.03 350.51h3v3h-3zM590.7 352.38h3v3h-3zM590.7 368.09h3v3h-3zM591.28 366.98h3v3h-3zM591.85 366.44h3v3h-3zM592.27 365.66h3v3h-3zM592.68 370.57h3v3h-3zM596.09 328.08h3v3h-3zM597.75 338.61h3v3h-3zM598.27 339.58h3v3h-3zM598.8 344.63h3v3h-3zM600.3 325.08h3v3h-3zM600.68 326.66h3v3h-3zM601.06 330.34h3v3h-3zM601.36 346.88h3v3h-3zM602.11 344.53h3v3h-3zM602.86 340.87h3v3h-3zM603.31 352.15h3v3h-3zM604.06 354.15h3v3h-3zM604.82 356.66h3v3h-3zM605.27 363.42h3v3h-3zM605.79 364.82h3v3h-3zM606.32 367.94h3v3h-3zM606.32 375.45h3v3h-3zM606.85 372.93h3v3h-3zM607.37 370.19h3v3h-3zM608.58 359.67h3v3h-3zM609.33 356.01h3v3h-3zM610.08 356.66h3v3h-3zM610.38 333.35h3v3h-3zM611.13 337.6h3v3h-3zM611.88 340.87h3v3h-3zM611.88 346.13h3v3h-3zM612.64 343.76h3v3h-3zM613.39 343.88h3v3h-3zM613.39 361.92h3v3h-3zM614.59 376.96h3v3h-3zM615.19 376.35h3v3h-3zM615.79 372.45h3v3h-3zM616.7 368.51h3v3h-3zM617.6 364.18h3v3h-3zM618.2 360.17h3v3h-3zM618.8 358.16h3v3h-3zM620.3 334.1h3v3h-3zM620.61 337.11h3v3h-3zM621.81 319.06h3v3h-3zM622.11 325.83h3v3h-3zM622.86 327.01h3v3h-3zM623.61 329.59h3v3h-3zM623.61 341.62h3v3h-3zM624.36 339.9h3v3h-3zM625.12 342.37h3v3h-3zM625.72 344.47h3v3h-3zM626.32 346.13h3v3h-3zM626.62 367.94h3v3h-3zM627.82 355.15h3v3h-3zM628.88 367.94h3v3h-3zM628.88 379.52h3v3h-3zM630.83 353.65h3v3h-3zM630.83 322.07h3v3h-3zM630.83 328.09h3v3h-3zM631.88 311.85h3v3h-3zM631.88 331.85h3v3h-3zM632.86 326.4h3v3h-3zM633.84 323.58h3v3h-3zM634.89 337.86h3v3h-3zM635.34 343.12h3v3h-3zM636.09 344.48h3v3h-3zM636.85 346.13h3v3h-3zM637.9 358.91h3v3h-3zM638.65 360.77h3v3h-3zM639.4 359.67h3v3h-3zM639.78 362.36h3v3h-3zM640.15 364.18h3v3h-3zM640.45 370.94h3v3h-3zM641.06 369.68h3v3h-3zM641.66 367.18h3v3h-3zM642.03 368.36h3v3h-3zM642.41 362.67h3v3h-3zM643.46 344.63h3v3h-3zM643.91 333.35h3v3h-3zM644.97 358.16h3v3h-3zM645.42 345.38h3v3h-3zM646.47 333.35h3v3h-3zM647.97 347.64h3v3h-3zM647.97 366.43h3v3h-3zM649.18 352.15h3v3h-3zM649.78 356.05h3v3h-3zM650.38 358.16h3v3h-3zM650.68 357.73h3v3h-3zM650.98 354.4h3v3h-3zM650.98 361.92h3v3h-3z" fill="#0a0a0a"/>
<polyline points="107.11,565.38 107.44,571.17 107.44,577.79 108.02,579.49 108.6,582.75 109.1,579.86 109.59,575.31 110.17,577.74 110.75,580.27 111.25,571.17 112.41,584.4 112.99,581.59 113.56,577.79 114.23,576.37 114.89,572 115.55,574.24 116.21,575.31 116.79,574.72 117.37,571.17 117.95,576.25 118.53,579.44 119.19,579.83 119.85,576.96 120.18,585.23 120.84,585.32 121.51,587.71 121.84,594.33 122.5,591.81 123.16,591.02 123.82,591.29 124.48,594.33 124.81,588.54 125.48,588.33 126.14,586.89 126.72,583.72 127.3,581.1 127.79,576.13 128.12,574.66 128.45,571.17 128.95,569.45 129.45,567.03 130.11,557.94 130.77,553.94 131.43,549.67 131.84,554.1 132.26,553.8 133.09,552.4 133.91,549.67 134.74,547.15 135.57,544.7 136.15,544.86 136.72,547.18 137.39,545.6 138.05,541.39 138.71,544.1 139.37,544.7 139.95,545.16 140.53,548.01 141.36,538.91 142.02,541.23 142.68,543.88 143.01,544.96 143.34,545.53 144.67,533.95 145.49,543.88 146.07,540 146.65,539.74 147.31,542.74 147.97,546.36 148.39,546.24 148.8,543.05 149.63,553.8 150.45,553.26 151.28,556.28 151.7,559.72 152.11,562.07 152.69,566.64 153.27,567.03 154.09,565.11 154.92,564.55 155.58,565.29 156.24,567.03 157.07,566.03 157.9,564.55 158.56,567.19 159.22,568.69 159.8,567.89 160.38,566.21 160.96,566.61 161.54,570.34 162.2,568.68 162.86,568.69 163.52,570.87 164.19,572.82 164.76,573.3 165.34,574.48 166.17,573.66 167,570.34 167.58,571.23 168.16,572.82 168.16,576.96 168.82,576.14 169.48,576.13 170.14,580.65 170.8,581.1 171.38,583.49 171.96,586.06 172.54,585.81 173.12,587.71 173.61,591.02 174.19,591.85 174.77,592.68 175.43,590.77 176.1,589.37 176.51,588.5 176.92,586.06 177.34,584.49 177.75,581.92 178.41,583.21 179.07,585.23 179.4,572.82 180.07,571.57 180.73,571.17 181.31,573.48 181.89,576.96 182.38,560.42 182.96,561.08 183.54,558.76 183.54,566.21 184.12,565.94 184.7,561.24 185.19,565.32 185.69,569.52 186.27,566.83 186.85,562.9 187.26,565.36 187.68,567.03 188.34,562.34 189,558.76 189.33,572.82 189.99,573.49 190.65,575.31 191.23,571.47 191.81,568.69 192.22,570.71 192.64,576.96 193.3,572.41 193.96,569.52 194.54,573.32 195.12,576.13 195.53,573.43 195.95,568.69 196.28,561.24 196.94,559.78 197.6,558.76 197.93,549.67 197.93,539.74 198.59,540.15 199.26,541.39 199.92,544.58 200.58,546.36 201.74,535.6 202.15,539.93 202.56,539.74 203.89,530.64 203.89,553.8 204.47,554.43 205.05,557.11 205.46,559.98 205.87,564.55 206.29,566.97 206.7,570.34 207.11,572.19 207.53,572.82 207.94,575.19 208.35,579.44 209.18,561.24 209.18,561.24 209.96,579.44 210.79,567.86 211.62,577.79 212.28,576.23 212.94,573.65 213.52,575.34 214.1,578.61 214.51,576.34 214.93,572.82 215.59,570 216.25,567.86 216.91,577.79 217.57,578.56 218.23,580.27 218.9,579.92 219.56,577.79 220.14,573.17 220.72,571.17 220.72,558.76 220.72,549.67 221.13,548.41 221.54,548.84 222.37,538.09 222.78,542.61 223.2,545.53 223.86,544.72 224.52,542.22 225.1,543.69 225.68,544.7 226.09,540.23 226.51,540.57 227.17,540.53 227.83,538.91 228.16,535.6 228.82,534.33 229.48,532.3 229.81,525.68 230.48,526.55 231.14,528.16 231.47,521.54 232.13,516.92 232.79,516.58 233.37,519.15 233.95,519.89 234.53,519.5 235.11,515.26 235.6,521.54 236.18,523.33 236.76,524.02 238.91,534.78 239.74,545.53 240.4,547.41 241.06,546.36 242.72,558.76 242.72,567.86 243.54,568.38 244.37,570.34 244.7,566.21 245.36,568.89 246.03,571.17 246.6,568.8 247.18,567.86 247.76,568.7 248.34,572 249,573.27 249.67,575.31 250.33,575.54 250.99,577.79 251.57,574.9 252.15,573.65 252.73,574.04 253.3,576.13 253.97,574.02 254.63,572.82 255.04,570.02 255.45,567.86 256.03,569.24 256.61,570.34 257.11,565.66 257.61,563.73 257.94,561.18 258.27,557.94 258.93,554.7 259.59,555.45 260.25,557.58 260.91,559.59 261.49,556.37 262.07,552.97 262.65,549.59 263.23,551.32 263.73,549.29 264.22,548.01 264.8,550.45 265.38,550.49 265.88,546.36 267.03,533.12 267.61,529.9 268.19,525.68 268.69,516.58 269.27,516.04 269.85,516.58 270.34,523.2 270.76,524.25 271.17,526.51 271.83,524.35 272.49,521.54 273.16,531.47 273.65,533.29 274.15,534.78 274.98,538.57 275.8,540.57 276.13,552.97 277.46,566.21 277.46,576.96 278.04,578.77 278.61,580.27 279.11,567.86 279.69,572.17 280.27,574.48 281.43,562.07 281.92,571.17 282.34,569.13 282.75,566.21 283.41,569.5 284.07,574.48 285.23,562.9 285.23,570.34 286.39,558.76 287.38,549.67 287.96,546.48 288.54,545.53 288.95,549.09 289.37,553.8 290.03,553.42 290.69,552.15 291.27,552.02 291.85,553.8 292.26,552.3 292.68,548.84 293.5,544.25 294.33,543.05 294.33,529.81 294.99,528.7 295.65,528.16 295.65,513.27 296.13,516.11 296.6,521 297.9,510.3 298.65,510.04 299.4,509.1 299.9,506.7 300.4,504 300.9,501.53 301.4,499.4 301.75,501.99 302.1,507.3 302.55,503.58 303,501.8 303.6,503.22 304.2,506.1 304.6,505.64 305,503 305.4,500.49 305.8,499.4 306.1,503.25 306.4,506 307,505.21 307.6,502.4 307.95,499.27 308.3,498 308.6,495.13 308.9,493.4 309.4,506 310,506.02 310.6,510.9 310.9,512.56 311.2,515.1 312.28,519.11 313.35,521.54 313.35,530.64 313.77,533.74 314.18,538.91 314.18,543.88 314.51,552.97 315.36,553.51 316.21,553.28 316.54,549.97 317.37,601.26 317.87,545.84 318.44,544.64 319.02,541.7 319.6,544.17 320.18,545.84 320.68,543.29 321.17,541.7 321.75,537.82 322.33,533.43 323.16,545.01 323.99,535.91 324.81,536 325.64,537.57 326.22,538.76 326.8,540.88 327.3,545.34 327.87,550.28 328.45,549.97 329.11,552.31 329.78,555.76 330.19,557.08 330.6,559.9 331.1,563.21 331.93,564.21 332.75,564.86 333.33,566.82 333.91,568.17 334.49,568.59 335.07,567.34 335.57,568.99 336.06,572.31 336.64,567.84 337.22,565.69 337.72,555.76 338.88,564.86 339.29,560.89 339.7,559.07 340.53,542.53 341.36,544.18 342.18,544.18 343.34,554.94 344,555.29 344.67,553.28 345.08,554.52 345.49,557.42 346.07,558.51 346.65,560.73 347.31,564.83 347.97,569 348.39,566.29 348.8,565.69 349.63,569.28 350.45,573.96 351.03,573.34 351.61,570.65 352.27,567.65 352.94,567.34 353.6,568.16 354.26,568.17 354.84,571.95 355.42,573.13 356.24,570.3 357.07,569.82 357.65,573.51 358.23,574.79 358.73,571.9 359.22,569 360.38,582.23 360.96,579.58 361.54,578.1 362.03,581.12 362.53,582.23 363.69,569.82 365.34,579.75 365.34,568.17 365.92,565.36 366.5,562.38 367,552.45 367.58,551.36 368.16,550.8 368.82,551.41 369.48,553.28 370.14,553.6 370.8,555.76 371.38,556.4 371.96,558.24 372.37,554.67 372.79,551.63 373.2,549.57 373.61,545.84 374.19,547.63 374.77,549.97 375.43,548.64 376.1,546.67 376.76,548.72 377.42,551.63 378,553.8 378.58,554.94 379.16,556.51 379.74,558.24 379.74,562.38 381.06,580.58 381.72,582.39 382.38,581.4 382.71,591.33 382.71,597.95 382.71,608.7 383.13,608.98 383.54,608.7 384.04,587.19 384.37,582.47 384.7,581.4 385.36,581.68 386.02,582.23 386.68,584.23 387.34,587.19 387.92,588.66 388.5,588.02 388.5,578.43 389.66,567.34 389.66,557.42 390.16,558.68 390.65,559.9 390.98,557.13 391.32,552.45 391.81,552.45 392.31,550.8 392.89,552.97 393.47,556.59 393.88,555.43 394.29,554.94 394.71,558.7 395.12,562.38 395.62,571.48 396.2,569.06 396.77,569 397.35,575.63 397.93,574.79 398.59,572.47 399.26,569 399.67,569.25 400.08,572.31 400.66,566.61 401.24,564.03 401.74,565.83 402.23,567.34 402.56,556.59 403.23,555.75 403.89,555.76 404.47,551.16 405.05,549.97 405.46,545.19 405.87,544.18 406.29,540.89 406.7,537.57 407.11,536.64 407.53,536.74 408.35,520.2 408.77,519.81 409.18,518.54 409.51,510.27 410.13,512.34 410.75,514.67 411.33,518.36 411.91,519.63 412.41,537 414.06,551.06 414.89,537.82 415.3,539.95 415.72,546.1 416.87,556.85 416.87,562.64 418.2,542.79 418.53,546.92 419.85,537 420.18,526.24 420.84,527.32 421.51,527.07 421.92,527.42 422.33,529.55 422.83,513.01 423.41,512.81 423.99,514.67 424.48,505.57 425.06,504.14 425.64,500.6 426.47,509.7 426.88,504.27 427.3,503.09 427.87,504.23 428.45,505.57 428.95,503.51 429.45,502.26 429.78,506.47 430.11,508.05 431.43,493.99 431.84,493.62 432.26,496.47 432.67,499.33 433.09,501.43 433.75,500.71 434.41,498.95 434.99,495.37 435.57,491.84 436.06,500.6 436.64,500.31 437.22,499.78 437.8,501.67 438.38,503.91 438.88,505.2 439.37,509.7 439.95,513.25 440.53,517.97 441.36,527.07 442.02,523.29 442.68,523.76 443.01,528.52 443.34,531.21 443.34,547.75 443.84,552.52 444.33,555.19 445.49,542.79 446.32,556.85 446.98,559.02 447.64,564.29 447.97,556.02 448.64,555.69 449.3,552.71 449.88,551.69 450.45,551.06 451.03,549.8 451.61,551.89 452.94,542.79 453.35,545.29 453.76,549.4 454.34,546.73 454.92,542.79 455.58,541.85 456.24,541.13 456.66,538.29 457.07,537.82 457.57,548.58 458.15,547.64 458.73,545.27 459.55,560.16 459.97,561.98 460.38,564.29 460.96,565.8 461.54,568.43 462.03,560.16 462.61,561.26 463.19,565.12 463.85,564.02 464.52,561.81 465.18,562.32 465.84,560.98 466.17,552.71 467.49,541.96 467.82,533.69 468.24,533.77 468.65,536.17 469.15,525.42 469.15,513.84 469.73,512.67 470.31,512.18 470.72,509.39 471.13,507.22 471.79,506.15 472.46,504.74 472.46,498.12 472.79,493.2 473.12,490.68 473.61,492.03 474.11,489.02 474.44,491.39 474.77,493.16 475.43,494.95 476.1,494.81 476.43,500.6 477.09,502.72 477.75,505.57 477.75,517.15 478.41,519.86 479.07,517.97 479.4,533.69 480.07,533.35 480.73,532.03 481.06,521.28 481.72,522.6 482.38,527.9 482.96,525.27 483.54,520.45 484.37,529.55 485.03,527.02 485.69,524.59 486.27,526.73 486.85,531.21 487.68,521.28 488.34,520.39 489,519.63 489.58,522.36 490.16,527.07 490.74,524.12 491.32,519.63 492.31,533.69 492.64,524.59 493.3,526.5 493.96,527.07 494.54,521.82 495.12,519.63 495.7,519.53 496.28,517.97 496.77,521.61 497.27,522.94 497.85,521.02 498.43,524.59 499.01,525.61 499.59,523.76 500.08,526.56 500.58,527.9 500.91,537 501.57,539.14 502.23,539.48 502.56,539.39 502.89,536.17 503.39,543.61 503.8,546.04 504.22,548.58 504.63,548.2 505.05,549.74 505.54,539.48 506.12,538.23 506.7,536.17 507.28,533.93 507.86,532.03 508.85,522.94 509.18,514.67 509.59,511.85 510.01,508.05 510.38,505.43 510.75,507.94 511.91,493.88 512.41,488.91 512.99,490.94 513.56,493.88 514.89,504.63 515.3,509.55 515.72,508.76 516.21,522 516.54,536.06 517.2,532.34 517.87,527.79 518.2,525.58 518.53,521.17 519.52,507.94 519.85,518.69 520.51,516.17 521.17,512.9 521.75,512.1 522.33,512.07 522.33,522 523.49,541.85 524.48,554.26 524.48,562.53 525.06,561.8 525.64,559.22 526.05,556.73 526.47,552.6 527.13,548.08 527.79,544.33 528.45,554.26 529.11,554.46 529.78,555.08 529.78,539.37 530.44,539.28 531.1,537.71 531.1,525.31 531.68,528.15 532.26,532.75 532.75,519.52 533.91,541.02 534.41,521.17 534.99,520.24 535.57,521.17 536.39,509.59 536.81,514.19 537.22,516.21 538.38,503.8 538.38,541.02 539.37,503.8 539.7,512.07 540.36,514.99 541.03,515.38 541.36,521.17 542.18,531.1 542.68,536.89 543.26,538.33 543.84,540.19 544.33,545.16 544.91,548.12 545.49,547.64 546.07,549.82 546.65,550.12 547.15,539.37 547.73,538.16 548.3,536.06 548.8,533.02 549.3,531.1 549.63,522 550.95,507.94 551.28,510.85 551.61,512.07 552.61,493.88 553.76,480.64 554.26,497.18 554.84,492.46 555.42,488.91 556.24,504.63 557.07,517.03 557.65,512.82 558.23,508.76 558.73,518.69 559.55,541.02 559.55,545.16 561.21,512.07 561.54,537.71 562.53,559.22 562.86,552.6 563.28,548.2 563.69,545.16 563.69,536.06 564.27,533.26 564.85,527.79 565.34,526.29 565.84,524.48 566.42,524.09 567,523.65 567.49,517.03 567.82,514.89 568.16,511.24 568.65,499.67 569.23,499.92 569.81,494.7 570.8,507.94 571.38,509.09 571.96,507.94 572.79,521.17 572.79,531.92 574.44,541.85 574.77,526.13 575.43,523.62 576.1,524.48 576.76,523.67 577.42,522.82 578.58,512.07 578.58,498.84 579.16,501.03 579.74,502.97 580.23,489.74 580.65,491.61 581.06,494.7 581.47,496.54 581.89,500.49 582.38,512.07 583.54,499.67 584.37,517.03 585.03,523.06 585.69,525.31 586.02,508.76 586.68,509.62 587.34,508.76 587.68,496.36 588.09,494.09 588.5,489.74 588.92,488.1 589.33,485.6 589.74,482.42 590.16,477.33 590.74,474.35 591.32,470.22 591.81,481.47 592.64,471.54 593.47,483.95 593.88,480.04 594.29,475.68 594.62,499.67 595.29,500.72 595.95,502.15 595.95,513.73 596.61,512.25 597.27,512.9 597.6,504.63 598.01,506.34 598.43,509.59 598.92,493.88 599.5,495.08 600.08,496.36 601.24,484.78 601.74,496.36 602.32,494.97 602.89,495.53 603.39,497.99 603.89,499.67 604.47,498.27 605.05,498.84 605.46,501.78 605.87,502.97 606.29,502.27 606.7,504.63 607.11,506.65 607.53,507.94 607.94,511 608.35,511.24 608.77,514.27 609.18,515.38 610.01,504.63 610.16,509.54 610.56,510.66 610.97,512.92 611.24,527.81 611.78,526.55 612.32,522.4 612.79,526.84 613.27,531.19 613.61,527.87 613.94,523.75 614.49,525.73 615.03,527.81 615.03,518.34 615.57,509.54 615.97,503.45 616.65,500.86 617.33,502.1 617.33,480.45 618,481.41 618.68,481.12 619.56,483.97 620.44,485.86 621.39,509.54 621.79,502.1 622.6,504.62 623.42,505.48 624.09,477.74 624.5,470.3 625.85,491.95 626.12,456.09 626.8,459.08 627.48,464.21 627.48,468.94 628.83,482.48 628.83,497.36 630.45,538.63 630.45,509.54 631.81,496.68 632.21,514.95 632.89,513.47 633.57,510.22 633.9,505.45 634.24,502.1 634.51,491.95 635.05,493.37 635.6,497.36 635.87,486.54 636.54,483.72 637.22,483.15 637.63,470.57 638.1,474.72 638.57,478.42 639.65,489.24 640.33,475.03 641.68,491.27 642.36,480.45 643.44,499.39 644.39,487.89 644.73,483.72 645.07,480.45 646.15,470.97 646.69,474.36 647.1,471.99 647.5,466.24 648.04,477.06 649.13,464.21 649.47,467.79 649.8,469.62 650.14,474.94 650.48,477.74 651.02,476.21 651.56,475.03 652.04,476.56 652.51,480.45 652.92,476.39" fill="none" stroke="#ad241f" stroke-width="1.0" stroke-linejoin="round"/>
<path d="M105.61 563.88h3v3h-3zM105.94 569.67h3v3h-3zM105.94 576.29h3v3h-3zM106.52 577.99h3v3h-3zM107.1 581.25h3v3h-3zM107.6 578.36h3v3h-3zM108.09 573.81h3v3h-3zM108.67 576.24h3v3h-3zM109.25 578.77h3v3h-3zM109.75 569.67h3v3h-3zM110.91 582.9h3v3h-3zM111.49 580.09h3v3h-3zM112.06 576.29h3v3h-3zM112.73 574.87h3v3h-3zM113.39 570.5h3v3h-3zM114.05 572.74h3v3h-3zM114.71 573.81h3v3h-3zM115.29 573.22h3v3h-3zM115.87 569.67h3v3h-3zM116.45 574.75h3v3h-3zM117.03 577.94h3v3h-3zM117.69 578.33h3v3h-3zM118.35 575.46h3v3h-3zM118.68 583.73h3v3h-3zM119.34 583.82h3v3h-3zM120.01 586.21h3v3h-3zM120.34 592.83h3v3h-3zM121 590.31h3v3h-3zM121.66 589.52h3v3h-3zM122.32 589.79h3v3h-3zM122.98 592.83h3v3h-3zM123.31 587.04h3v3h-3zM123.98 586.83h3v3h-3zM124.64 585.39h3v3h-3zM125.22 582.22h3v3h-3zM125.8 579.6h3v3h-3zM126.29 574.63h3v3h-3zM126.62 573.16h3v3h-3zM126.95 569.67h3v3h-3zM127.45 567.95h3v3h-3zM127.95 565.53h3v3h-3zM128.61 556.44h3v3h-3zM129.27 552.44h3v3h-3zM129.93 548.17h3v3h-3zM130.34 552.6h3v3h-3zM130.76 552.3h3v3h-3zM131.59 550.9h3v3h-3zM132.41 548.17h3v3h-3zM133.24 545.65h3v3h-3zM134.07 543.2h3v3h-3zM134.65 543.36h3v3h-3zM135.22 545.68h3v3h-3zM135.89 544.1h3v3h-3zM136.55 539.89h3v3h-3zM137.21 542.6h3v3h-3zM137.87 543.2h3v3h-3zM138.45 543.66h3v3h-3zM139.03 546.51h3v3h-3zM139.86 537.41h3v3h-3zM140.52 539.73h3v3h-3zM141.18 542.38h3v3h-3zM141.51 543.46h3v3h-3zM141.84 544.03h3v3h-3zM143.17 532.45h3v3h-3zM143.99 542.38h3v3h-3zM144.57 538.5h3v3h-3zM145.15 538.24h3v3h-3zM145.81 541.24h3v3h-3zM146.47 544.86h3v3h-3zM146.89 544.74h3v3h-3zM147.3 541.55h3v3h-3zM148.13 552.3h3v3h-3zM148.95 551.76h3v3h-3zM149.78 554.78h3v3h-3zM150.2 558.22h3v3h-3zM150.61 560.57h3v3h-3zM151.19 565.14h3v3h-3zM151.77 565.53h3v3h-3zM152.59 563.61h3v3h-3zM153.42 563.05h3v3h-3zM154.08 563.79h3v3h-3zM154.74 565.53h3v3h-3zM155.57 564.53h3v3h-3zM156.4 563.05h3v3h-3zM157.06 565.69h3v3h-3zM157.72 567.19h3v3h-3zM158.3 566.39h3v3h-3zM158.88 564.71h3v3h-3zM159.46 565.11h3v3h-3zM160.04 568.84h3v3h-3zM160.7 567.18h3v3h-3zM161.36 567.19h3v3h-3zM162.02 569.37h3v3h-3zM162.69 571.32h3v3h-3zM163.26 571.8h3v3h-3zM163.84 572.98h3v3h-3zM164.67 572.16h3v3h-3zM165.5 568.84h3v3h-3zM166.08 569.73h3v3h-3zM166.66 571.32h3v3h-3zM166.66 575.46h3v3h-3zM167.32 574.64h3v3h-3zM167.98 574.63h3v3h-3zM168.64 579.15h3v3h-3zM169.3 579.6h3v3h-3zM169.88 581.99h3v3h-3zM170.46 584.56h3v3h-3zM171.04 584.31h3v3h-3zM171.62 586.21h3v3h-3zM172.11 589.52h3v3h-3zM172.69 590.35h3v3h-3zM173.27 591.18h3v3h-3zM173.93 589.27h3v3h-3zM174.6 587.87h3v3h-3zM175.01 587h3v3h-3zM175.42 584.56h3v3h-3zM175.84 582.99h3v3h-3zM176.25 580.42h3v3h-3zM176.91 581.71h3v3h-3zM177.57 583.73h3v3h-3zM177.9 571.32h3v3h-3zM178.57 570.07h3v3h-3zM179.23 569.67h3v3h-3zM179.81 571.98h3v3h-3zM180.39 575.46h3v3h-3zM180.88 558.92h3v3h-3zM181.46 559.58h3v3h-3zM182.04 557.26h3v3h-3zM182.04 564.71h3v3h-3zM182.62 564.44h3v3h-3zM183.2 559.74h3v3h-3zM183.69 563.82h3v3h-3zM184.19 568.02h3v3h-3zM184.77 565.33h3v3h-3zM185.35 561.4h3v3h-3zM185.76 563.86h3v3h-3zM186.18 565.53h3v3h-3zM186.84 560.84h3v3h-3zM187.5 557.26h3v3h-3zM187.83 571.32h3v3h-3zM188.49 571.99h3v3h-3zM189.15 573.81h3v3h-3zM189.73 569.97h3v3h-3zM190.31 567.19h3v3h-3zM190.72 569.21h3v3h-3zM191.14 575.46h3v3h-3zM191.8 570.91h3v3h-3zM192.46 568.02h3v3h-3zM193.04 571.82h3v3h-3zM193.62 574.63h3v3h-3zM194.03 571.93h3v3h-3zM194.45 567.19h3v3h-3zM194.78 559.74h3v3h-3zM195.44 558.28h3v3h-3zM196.1 557.26h3v3h-3zM196.43 548.17h3v3h-3zM196.43 538.24h3v3h-3zM197.09 538.65h3v3h-3zM197.76 539.89h3v3h-3zM198.42 543.08h3v3h-3zM199.08 544.86h3v3h-3zM200.24 534.1h3v3h-3zM200.65 538.43h3v3h-3zM201.06 538.24h3v3h-3zM202.39 529.14h3v3h-3zM202.39 552.3h3v3h-3zM202.97 552.93h3v3h-3zM203.55 555.61h3v3h-3zM203.96 558.48h3v3h-3zM204.37 563.05h3v3h-3zM204.79 565.47h3v3h-3zM205.2 568.84h3v3h-3zM205.61 570.69h3v3h-3zM206.03 571.32h3v3h-3zM206.44 573.69h3v3h-3zM206.85 577.94h3v3h-3zM207.68 559.74h3v3h-3zM207.68 559.74h3v3h-3zM208.46 577.94h3v3h-3zM209.29 566.36h3v3h-3zM210.12 576.29h3v3h-3zM210.78 574.73h3v3h-3zM211.44 572.15h3v3h-3zM212.02 573.84h3v3h-3zM212.6 577.11h3v3h-3zM213.01 574.84h3v3h-3zM213.43 571.32h3v3h-3zM214.09 568.5h3v3h-3zM214.75 566.36h3v3h-3zM215.41 576.29h3v3h-3zM216.07 577.06h3v3h-3zM216.73 578.77h3v3h-3zM217.4 578.42h3v3h-3zM218.06 576.29h3v3h-3zM218.64 571.67h3v3h-3zM219.22 569.67h3v3h-3zM219.22 557.26h3v3h-3zM219.22 548.17h3v3h-3zM219.63 546.91h3v3h-3zM220.04 547.34h3v3h-3zM220.87 536.59h3v3h-3zM221.28 541.11h3v3h-3zM221.7 544.03h3v3h-3zM222.36 543.22h3v3h-3zM223.02 540.72h3v3h-3zM223.6 542.19h3v3h-3zM224.18 543.2h3v3h-3zM224.59 538.73h3v3h-3zM225.01 539.07h3v3h-3zM225.67 539.03h3v3h-3zM226.33 537.41h3v3h-3zM226.66 534.1h3v3h-3zM227.32 532.83h3v3h-3zM227.98 530.8h3v3h-3zM228.31 524.18h3v3h-3zM228.98 525.05h3v3h-3zM229.64 526.66h3v3h-3zM229.97 520.04h3v3h-3zM230.63 515.42h3v3h-3zM231.29 515.08h3v3h-3zM231.87 517.65h3v3h-3zM232.45 518.39h3v3h-3zM233.03 518h3v3h-3zM233.61 513.76h3v3h-3zM234.1 520.04h3v3h-3zM234.68 521.83h3v3h-3zM235.26 522.52h3v3h-3zM237.41 533.28h3v3h-3zM238.24 544.03h3v3h-3zM238.9 545.91h3v3h-3zM239.56 544.86h3v3h-3zM241.22 557.26h3v3h-3zM241.22 566.36h3v3h-3zM242.04 566.88h3v3h-3zM242.87 568.84h3v3h-3zM243.2 564.71h3v3h-3zM243.86 567.39h3v3h-3zM244.53 569.67h3v3h-3zM245.1 567.3h3v3h-3zM245.68 566.36h3v3h-3zM246.26 567.2h3v3h-3zM246.84 570.5h3v3h-3zM247.5 571.77h3v3h-3zM248.17 573.81h3v3h-3zM248.83 574.04h3v3h-3zM249.49 576.29h3v3h-3zM250.07 573.4h3v3h-3zM250.65 572.15h3v3h-3zM251.23 572.54h3v3h-3zM251.8 574.63h3v3h-3zM252.47 572.52h3v3h-3zM253.13 571.32h3v3h-3zM253.54 568.52h3v3h-3zM253.95 566.36h3v3h-3zM254.53 567.74h3v3h-3zM255.11 568.84h3v3h-3zM255.61 564.16h3v3h-3zM256.11 562.23h3v3h-3zM256.44 559.68h3v3h-3zM256.77 556.44h3v3h-3zM257.43 553.2h3v3h-3zM258.09 553.95h3v3h-3zM258.75 556.08h3v3h-3zM259.41 558.09h3v3h-3zM259.99 554.87h3v3h-3zM260.57 551.47h3v3h-3zM261.15 548.09h3v3h-3zM261.73 549.82h3v3h-3zM262.23 547.79h3v3h-3zM262.72 546.51h3v3h-3zM263.3 548.95h3v3h-3zM263.88 548.99h3v3h-3zM264.38 544.86h3v3h-3zM265.53 531.62h3v3h-3zM266.11 528.4h3v3h-3zM266.69 524.18h3v3h-3zM267.19 515.08h3v3h-3zM267.77 514.54h3v3h-3zM268.35 515.08h3v3h-3zM268.84 521.7h3v3h-3zM269.26 522.75h3v3h-3zM269.67 525.01h3v3h-3zM270.33 522.85h3v3h-3zM270.99 520.04h3v3h-3zM271.66 529.97h3v3h-3zM272.15 531.79h3v3h-3zM272.65 533.28h3v3h-3zM273.48 537.07h3v3h-3zM274.3 539.07h3v3h-3zM274.63 551.47h3v3h-3zM275.96 564.71h3v3h-3zM275.96 575.46h3v3h-3zM276.54 577.27h3v3h-3zM277.11 578.77h3v3h-3zM277.61 566.36h3v3h-3zM278.19 570.67h3v3h-3zM278.77 572.98h3v3h-3zM279.93 560.57h3v3h-3zM280.42 569.67h3v3h-3zM280.84 567.63h3v3h-3zM281.25 564.71h3v3h-3zM281.91 568h3v3h-3zM282.57 572.98h3v3h-3zM283.73 561.4h3v3h-3zM283.73 568.84h3v3h-3zM284.89 557.26h3v3h-3zM285.88 548.17h3v3h-3zM286.46 544.98h3v3h-3zM287.04 544.03h3v3h-3zM287.45 547.59h3v3h-3zM287.87 552.3h3v3h-3zM288.53 551.92h3v3h-3zM289.19 550.65h3v3h-3zM289.77 550.52h3v3h-3zM290.35 552.3h3v3h-3zM290.76 550.8h3v3h-3zM291.18 547.34h3v3h-3zM292 542.75h3v3h-3zM292.83 541.55h3v3h-3zM292.83 528.31h3v3h-3zM293.49 527.2h3v3h-3zM294.15 526.66h3v3h-3zM294.15 511.77h3v3h-3zM294.63 514.61h3v3h-3zM295.1 519.5h3v3h-3zM296.4 508.8h3v3h-3zM297.15 508.54h3v3h-3zM297.9 507.6h3v3h-3zM298.4 505.2h3v3h-3zM298.9 502.5h3v3h-3zM299.4 500.03h3v3h-3zM299.9 497.9h3v3h-3zM300.25 500.49h3v3h-3zM300.6 505.8h3v3h-3zM301.05 502.08h3v3h-3zM301.5 500.3h3v3h-3zM302.1 501.72h3v3h-3zM302.7 504.6h3v3h-3zM303.1 504.14h3v3h-3zM303.5 501.5h3v3h-3zM303.9 498.99h3v3h-3zM304.3 497.9h3v3h-3zM304.6 501.75h3v3h-3zM304.9 504.5h3v3h-3zM305.5 503.71h3v3h-3zM306.1 500.9h3v3h-3zM306.45 497.77h3v3h-3zM306.8 496.5h3v3h-3zM307.1 493.63h3v3h-3zM307.4 491.9h3v3h-3zM307.9 504.5h3v3h-3zM308.5 504.52h3v3h-3zM309.1 509.4h3v3h-3zM309.4 511.06h3v3h-3zM309.7 513.6h3v3h-3zM310.78 517.61h3v3h-3zM311.85 520.04h3v3h-3zM311.85 529.14h3v3h-3zM312.27 532.24h3v3h-3zM312.68 537.41h3v3h-3zM312.68 542.38h3v3h-3zM313.01 551.47h3v3h-3zM313.86 552.01h3v3h-3zM314.71 551.78h3v3h-3zM315.04 548.47h3v3h-3zM315.87 599.76h3v3h-3zM316.37 544.34h3v3h-3zM316.94 543.14h3v3h-3zM317.52 540.2h3v3h-3zM318.1 542.67h3v3h-3zM318.68 544.34h3v3h-3zM319.18 541.79h3v3h-3zM319.67 540.2h3v3h-3zM320.25 536.32h3v3h-3zM320.83 531.93h3v3h-3zM321.66 543.51h3v3h-3zM322.49 534.41h3v3h-3zM323.31 534.5h3v3h-3zM324.14 536.07h3v3h-3zM324.72 537.26h3v3h-3zM325.3 539.38h3v3h-3zM325.8 543.84h3v3h-3zM326.37 548.78h3v3h-3zM326.95 548.47h3v3h-3zM327.61 550.81h3v3h-3zM328.28 554.26h3v3h-3zM328.69 555.58h3v3h-3zM329.1 558.4h3v3h-3zM329.6 561.71h3v3h-3zM330.43 562.71h3v3h-3zM331.25 563.36h3v3h-3zM331.83 565.32h3v3h-3zM332.41 566.67h3v3h-3zM332.99 567.09h3v3h-3zM333.57 565.84h3v3h-3zM334.07 567.49h3v3h-3zM334.56 570.81h3v3h-3zM335.14 566.34h3v3h-3zM335.72 564.19h3v3h-3zM336.22 554.26h3v3h-3zM337.38 563.36h3v3h-3zM337.79 559.39h3v3h-3zM338.2 557.57h3v3h-3zM339.03 541.03h3v3h-3zM339.86 542.68h3v3h-3zM340.68 542.68h3v3h-3zM341.84 553.44h3v3h-3zM342.5 553.79h3v3h-3zM343.17 551.78h3v3h-3zM343.58 553.02h3v3h-3zM343.99 555.92h3v3h-3zM344.57 557.01h3v3h-3zM345.15 559.23h3v3h-3zM345.81 563.33h3v3h-3zM346.47 567.5h3v3h-3zM346.89 564.79h3v3h-3zM347.3 564.19h3v3h-3zM348.13 567.78h3v3h-3zM348.95 572.46h3v3h-3zM349.53 571.84h3v3h-3zM350.11 569.15h3v3h-3zM350.77 566.15h3v3h-3zM351.44 565.84h3v3h-3zM352.1 566.66h3v3h-3zM352.76 566.67h3v3h-3zM353.34 570.45h3v3h-3zM353.92 571.63h3v3h-3zM354.74 568.8h3v3h-3zM355.57 568.32h3v3h-3zM356.15 572.01h3v3h-3zM356.73 573.29h3v3h-3zM357.23 570.4h3v3h-3zM357.72 567.5h3v3h-3zM358.88 580.73h3v3h-3zM359.46 578.08h3v3h-3zM360.04 576.6h3v3h-3zM360.53 579.62h3v3h-3zM361.03 580.73h3v3h-3zM362.19 568.32h3v3h-3zM363.84 578.25h3v3h-3zM363.84 566.67h3v3h-3zM364.42 563.86h3v3h-3zM365 560.88h3v3h-3zM365.5 550.95h3v3h-3zM366.08 549.86h3v3h-3zM366.66 549.3h3v3h-3zM367.32 549.91h3v3h-3zM367.98 551.78h3v3h-3zM368.64 552.1h3v3h-3zM369.3 554.26h3v3h-3zM369.88 554.9h3v3h-3zM370.46 556.74h3v3h-3zM370.87 553.17h3v3h-3zM371.29 550.13h3v3h-3zM371.7 548.07h3v3h-3zM372.11 544.34h3v3h-3zM372.69 546.13h3v3h-3zM373.27 548.47h3v3h-3zM373.93 547.14h3v3h-3zM374.6 545.17h3v3h-3zM375.26 547.22h3v3h-3zM375.92 550.13h3v3h-3zM376.5 552.3h3v3h-3zM377.08 553.44h3v3h-3zM377.66 555.01h3v3h-3zM378.24 556.74h3v3h-3zM378.24 560.88h3v3h-3zM379.56 579.08h3v3h-3zM380.22 580.89h3v3h-3zM380.88 579.9h3v3h-3zM381.21 589.83h3v3h-3zM381.21 596.45h3v3h-3zM381.21 607.2h3v3h-3zM381.63 607.48h3v3h-3zM382.04 607.2h3v3h-3zM382.54 585.69h3v3h-3zM382.87 580.97h3v3h-3zM383.2 579.9h3v3h-3zM383.86 580.18h3v3h-3zM384.52 580.73h3v3h-3zM385.18 582.73h3v3h-3zM385.84 585.69h3v3h-3zM386.42 587.16h3v3h-3zM387 586.52h3v3h-3zM387 576.93h3v3h-3zM388.16 565.84h3v3h-3zM388.16 555.92h3v3h-3zM388.66 557.18h3v3h-3zM389.15 558.4h3v3h-3zM389.48 555.63h3v3h-3zM389.82 550.95h3v3h-3zM390.31 550.95h3v3h-3zM390.81 549.3h3v3h-3zM391.39 551.47h3v3h-3zM391.97 555.09h3v3h-3zM392.38 553.93h3v3h-3zM392.79 553.44h3v3h-3zM393.21 557.2h3v3h-3zM393.62 560.88h3v3h-3zM394.12 569.98h3v3h-3zM394.7 567.56h3v3h-3zM395.27 567.5h3v3h-3zM395.85 574.13h3v3h-3zM396.43 573.29h3v3h-3zM397.09 570.97h3v3h-3zM397.76 567.5h3v3h-3zM398.17 567.75h3v3h-3zM398.58 570.81h3v3h-3zM399.16 565.11h3v3h-3zM399.74 562.53h3v3h-3zM400.24 564.33h3v3h-3zM400.73 565.84h3v3h-3zM401.06 555.09h3v3h-3zM401.73 554.25h3v3h-3zM402.39 554.26h3v3h-3zM402.97 549.66h3v3h-3zM403.55 548.47h3v3h-3zM403.96 543.69h3v3h-3zM404.37 542.68h3v3h-3zM404.79 539.39h3v3h-3zM405.2 536.07h3v3h-3zM405.61 535.14h3v3h-3zM406.03 535.24h3v3h-3zM406.85 518.7h3v3h-3zM407.27 518.31h3v3h-3zM407.68 517.04h3v3h-3zM408.01 508.77h3v3h-3zM408.63 510.84h3v3h-3zM409.25 513.17h3v3h-3zM409.83 516.86h3v3h-3zM410.41 518.13h3v3h-3zM410.91 535.5h3v3h-3zM412.56 549.56h3v3h-3zM413.39 536.32h3v3h-3zM413.8 538.45h3v3h-3zM414.22 544.6h3v3h-3zM415.37 555.35h3v3h-3zM415.37 561.14h3v3h-3zM416.7 541.29h3v3h-3zM417.03 545.42h3v3h-3zM418.35 535.5h3v3h-3zM418.68 524.74h3v3h-3zM419.34 525.82h3v3h-3zM420.01 525.57h3v3h-3zM420.42 525.92h3v3h-3zM420.83 528.05h3v3h-3zM421.33 511.51h3v3h-3zM421.91 511.31h3v3h-3zM422.49 513.17h3v3h-3zM422.98 504.07h3v3h-3zM423.56 502.64h3v3h-3zM424.14 499.1h3v3h-3zM424.97 508.2h3v3h-3zM425.38 502.77h3v3h-3zM425.8 501.59h3v3h-3zM426.37 502.73h3v3h-3zM426.95 504.07h3v3h-3zM427.45 502.01h3v3h-3zM427.95 500.76h3v3h-3zM428.28 504.97h3v3h-3zM428.61 506.55h3v3h-3zM429.93 492.49h3v3h-3zM430.34 492.12h3v3h-3zM430.76 494.97h3v3h-3zM431.17 497.83h3v3h-3zM431.59 499.93h3v3h-3zM432.25 499.21h3v3h-3zM432.91 497.45h3v3h-3zM433.49 493.87h3v3h-3zM434.07 490.34h3v3h-3zM434.56 499.1h3v3h-3zM435.14 498.81h3v3h-3zM435.72 498.28h3v3h-3zM436.3 500.17h3v3h-3zM436.88 502.41h3v3h-3zM437.38 503.7h3v3h-3zM437.87 508.2h3v3h-3zM438.45 511.75h3v3h-3zM439.03 516.47h3v3h-3zM439.86 525.57h3v3h-3zM440.52 521.79h3v3h-3zM441.18 522.26h3v3h-3zM441.51 527.02h3v3h-3zM441.84 529.71h3v3h-3zM441.84 546.25h3v3h-3zM442.34 551.02h3v3h-3zM442.83 553.69h3v3h-3zM443.99 541.29h3v3h-3zM444.82 555.35h3v3h-3zM445.48 557.52h3v3h-3zM446.14 562.79h3v3h-3zM446.47 554.52h3v3h-3zM447.14 554.19h3v3h-3zM447.8 551.21h3v3h-3zM448.38 550.19h3v3h-3zM448.95 549.56h3v3h-3zM449.53 548.3h3v3h-3zM450.11 550.39h3v3h-3zM451.44 541.29h3v3h-3zM451.85 543.79h3v3h-3zM452.26 547.9h3v3h-3zM452.84 545.23h3v3h-3zM453.42 541.29h3v3h-3zM454.08 540.35h3v3h-3zM454.74 539.63h3v3h-3zM455.16 536.79h3v3h-3zM455.57 536.32h3v3h-3zM456.07 547.08h3v3h-3zM456.65 546.14h3v3h-3zM457.23 543.77h3v3h-3zM458.05 558.66h3v3h-3zM458.47 560.48h3v3h-3zM458.88 562.79h3v3h-3zM459.46 564.3h3v3h-3zM460.04 566.93h3v3h-3zM460.53 558.66h3v3h-3zM461.11 559.76h3v3h-3zM461.69 563.62h3v3h-3zM462.35 562.52h3v3h-3zM463.02 560.31h3v3h-3zM463.68 560.82h3v3h-3zM464.34 559.48h3v3h-3zM464.67 551.21h3v3h-3zM465.99 540.46h3v3h-3zM466.32 532.19h3v3h-3zM466.74 532.27h3v3h-3zM467.15 534.67h3v3h-3zM467.65 523.92h3v3h-3zM467.65 512.34h3v3h-3zM468.23 511.17h3v3h-3zM468.81 510.68h3v3h-3zM469.22 507.89h3v3h-3zM469.63 505.72h3v3h-3zM470.29 504.65h3v3h-3zM470.96 503.24h3v3h-3zM470.96 496.62h3v3h-3zM471.29 491.7h3v3h-3zM471.62 489.18h3v3h-3zM472.11 490.53h3v3h-3zM472.61 487.52h3v3h-3zM472.94 489.89h3v3h-3zM473.27 491.66h3v3h-3zM473.93 493.45h3v3h-3zM474.6 493.31h3v3h-3zM474.93 499.1h3v3h-3zM475.59 501.22h3v3h-3zM476.25 504.07h3v3h-3zM476.25 515.65h3v3h-3zM476.91 518.36h3v3h-3zM477.57 516.47h3v3h-3zM477.9 532.19h3v3h-3zM478.57 531.85h3v3h-3zM479.23 530.53h3v3h-3zM479.56 519.78h3v3h-3zM480.22 521.1h3v3h-3zM480.88 526.4h3v3h-3zM481.46 523.77h3v3h-3zM482.04 518.95h3v3h-3zM482.87 528.05h3v3h-3zM483.53 525.52h3v3h-3zM484.19 523.09h3v3h-3zM484.77 525.23h3v3h-3zM485.35 529.71h3v3h-3zM486.18 519.78h3v3h-3zM486.84 518.89h3v3h-3zM487.5 518.13h3v3h-3zM488.08 520.86h3v3h-3zM488.66 525.57h3v3h-3zM489.24 522.62h3v3h-3zM489.82 518.13h3v3h-3zM490.81 532.19h3v3h-3zM491.14 523.09h3v3h-3zM491.8 525h3v3h-3zM492.46 525.57h3v3h-3zM493.04 520.32h3v3h-3zM493.62 518.13h3v3h-3zM494.2 518.03h3v3h-3zM494.78 516.47h3v3h-3zM495.27 520.11h3v3h-3zM495.77 521.44h3v3h-3zM496.35 519.52h3v3h-3zM496.93 523.09h3v3h-3zM497.51 524.11h3v3h-3zM498.09 522.26h3v3h-3zM498.58 525.06h3v3h-3zM499.08 526.4h3v3h-3zM499.41 535.5h3v3h-3zM500.07 537.64h3v3h-3zM500.73 537.98h3v3h-3zM501.06 537.89h3v3h-3zM501.39 534.67h3v3h-3zM501.89 542.11h3v3h-3zM502.3 544.54h3v3h-3zM502.72 547.08h3v3h-3zM503.13 546.7h3v3h-3zM503.55 548.24h3v3h-3zM504.04 537.98h3v3h-3zM504.62 536.73h3v3h-3zM505.2 534.67h3v3h-3zM505.78 532.43h3v3h-3zM506.36 530.53h3v3h-3zM507.35 521.44h3v3h-3zM507.68 513.17h3v3h-3zM508.09 510.35h3v3h-3zM508.51 506.55h3v3h-3zM508.88 503.93h3v3h-3zM509.25 506.44h3v3h-3zM510.41 492.38h3v3h-3zM510.91 487.41h3v3h-3zM511.49 489.44h3v3h-3zM512.06 492.38h3v3h-3zM513.39 503.13h3v3h-3zM513.8 508.05h3v3h-3zM514.22 507.26h3v3h-3zM514.71 520.5h3v3h-3zM515.04 534.56h3v3h-3zM515.7 530.84h3v3h-3zM516.37 526.29h3v3h-3zM516.7 524.08h3v3h-3zM517.03 519.67h3v3h-3zM518.02 506.44h3v3h-3zM518.35 517.19h3v3h-3zM519.01 514.67h3v3h-3zM519.67 511.4h3v3h-3zM520.25 510.6h3v3h-3zM520.83 510.57h3v3h-3zM520.83 520.5h3v3h-3zM521.99 540.35h3v3h-3zM522.98 552.76h3v3h-3zM522.98 561.03h3v3h-3zM523.56 560.3h3v3h-3zM524.14 557.72h3v3h-3zM524.55 555.23h3v3h-3zM524.97 551.1h3v3h-3zM525.63 546.58h3v3h-3zM526.29 542.83h3v3h-3zM526.95 552.76h3v3h-3zM527.61 552.96h3v3h-3zM528.28 553.58h3v3h-3zM528.28 537.87h3v3h-3zM528.94 537.78h3v3h-3zM529.6 536.21h3v3h-3zM529.6 523.81h3v3h-3zM530.18 526.65h3v3h-3zM530.76 531.25h3v3h-3zM531.25 518.02h3v3h-3zM532.41 539.52h3v3h-3zM532.91 519.67h3v3h-3zM533.49 518.74h3v3h-3zM534.07 519.67h3v3h-3zM534.89 508.09h3v3h-3zM535.31 512.69h3v3h-3zM535.72 514.71h3v3h-3zM536.88 502.3h3v3h-3zM536.88 539.52h3v3h-3zM537.87 502.3h3v3h-3zM538.2 510.57h3v3h-3zM538.86 513.49h3v3h-3zM539.53 513.88h3v3h-3zM539.86 519.67h3v3h-3zM540.68 529.6h3v3h-3zM541.18 535.39h3v3h-3zM541.76 536.83h3v3h-3zM542.34 538.69h3v3h-3zM542.83 543.66h3v3h-3zM543.41 546.62h3v3h-3zM543.99 546.14h3v3h-3zM544.57 548.32h3v3h-3zM545.15 548.62h3v3h-3zM545.65 537.87h3v3h-3zM546.23 536.66h3v3h-3zM546.8 534.56h3v3h-3zM547.3 531.52h3v3h-3zM547.8 529.6h3v3h-3zM548.13 520.5h3v3h-3zM549.45 506.44h3v3h-3zM549.78 509.35h3v3h-3zM550.11 510.57h3v3h-3zM551.11 492.38h3v3h-3zM552.26 479.14h3v3h-3zM552.76 495.68h3v3h-3zM553.34 490.96h3v3h-3zM553.92 487.41h3v3h-3zM554.74 503.13h3v3h-3zM555.57 515.53h3v3h-3zM556.15 511.32h3v3h-3zM556.73 507.26h3v3h-3zM557.23 517.19h3v3h-3zM558.05 539.52h3v3h-3zM558.05 543.66h3v3h-3zM559.71 510.57h3v3h-3zM560.04 536.21h3v3h-3zM561.03 557.72h3v3h-3zM561.36 551.1h3v3h-3zM561.78 546.7h3v3h-3zM562.19 543.66h3v3h-3zM562.19 534.56h3v3h-3zM562.77 531.76h3v3h-3zM563.35 526.29h3v3h-3zM563.84 524.79h3v3h-3zM564.34 522.98h3v3h-3zM564.92 522.59h3v3h-3zM565.5 522.15h3v3h-3zM565.99 515.53h3v3h-3zM566.32 513.39h3v3h-3zM566.66 509.74h3v3h-3zM567.15 498.17h3v3h-3zM567.73 498.42h3v3h-3zM568.31 493.2h3v3h-3zM569.3 506.44h3v3h-3zM569.88 507.59h3v3h-3zM570.46 506.44h3v3h-3zM571.29 519.67h3v3h-3zM571.29 530.42h3v3h-3zM572.94 540.35h3v3h-3zM573.27 524.63h3v3h-3zM573.93 522.12h3v3h-3zM574.6 522.98h3v3h-3zM575.26 522.17h3v3h-3zM575.92 521.32h3v3h-3zM577.08 510.57h3v3h-3zM577.08 497.34h3v3h-3zM577.66 499.53h3v3h-3zM578.24 501.47h3v3h-3zM578.73 488.24h3v3h-3zM579.15 490.11h3v3h-3zM579.56 493.2h3v3h-3zM579.97 495.04h3v3h-3zM580.39 498.99h3v3h-3zM580.88 510.57h3v3h-3zM582.04 498.17h3v3h-3zM582.87 515.53h3v3h-3zM583.53 521.56h3v3h-3zM584.19 523.81h3v3h-3zM584.52 507.26h3v3h-3zM585.18 508.12h3v3h-3zM585.84 507.26h3v3h-3zM586.18 494.86h3v3h-3zM586.59 492.59h3v3h-3zM587 488.24h3v3h-3zM587.42 486.6h3v3h-3zM587.83 484.1h3v3h-3zM588.24 480.92h3v3h-3zM588.66 475.83h3v3h-3zM589.24 472.85h3v3h-3zM589.82 468.72h3v3h-3zM590.31 479.97h3v3h-3zM591.14 470.04h3v3h-3zM591.97 482.45h3v3h-3zM592.38 478.54h3v3h-3zM592.79 474.18h3v3h-3zM593.12 498.17h3v3h-3zM593.79 499.22h3v3h-3zM594.45 500.65h3v3h-3zM594.45 512.23h3v3h-3zM595.11 510.75h3v3h-3zM595.77 511.4h3v3h-3zM596.1 503.13h3v3h-3zM596.51 504.84h3v3h-3zM596.93 508.09h3v3h-3zM597.42 492.38h3v3h-3zM598 493.58h3v3h-3zM598.58 494.86h3v3h-3zM599.74 483.28h3v3h-3zM600.24 494.86h3v3h-3zM600.82 493.47h3v3h-3zM601.39 494.03h3v3h-3zM601.89 496.49h3v3h-3zM602.39 498.17h3v3h-3zM602.97 496.77h3v3h-3zM603.55 497.34h3v3h-3zM603.96 500.28h3v3h-3zM604.37 501.47h3v3h-3zM604.79 500.77h3v3h-3zM605.2 503.13h3v3h-3zM605.61 505.15h3v3h-3zM606.03 506.44h3v3h-3zM606.44 509.5h3v3h-3zM606.85 509.74h3v3h-3zM607.27 512.77h3v3h-3zM607.68 513.88h3v3h-3zM608.51 503.13h3v3h-3zM608.66 508.04h3v3h-3zM609.06 509.16h3v3h-3zM609.47 511.42h3v3h-3zM609.74 526.31h3v3h-3zM610.28 525.05h3v3h-3zM610.82 520.9h3v3h-3zM611.29 525.34h3v3h-3zM611.77 529.69h3v3h-3zM612.11 526.37h3v3h-3zM612.44 522.25h3v3h-3zM612.99 524.23h3v3h-3zM613.53 526.31h3v3h-3zM613.53 516.84h3v3h-3zM614.07 508.04h3v3h-3zM614.47 501.95h3v3h-3zM615.15 499.36h3v3h-3zM615.83 500.6h3v3h-3zM615.83 478.95h3v3h-3zM616.5 479.91h3v3h-3zM617.18 479.62h3v3h-3zM618.06 482.47h3v3h-3zM618.94 484.36h3v3h-3zM619.89 508.04h3v3h-3zM620.29 500.6h3v3h-3zM621.1 503.12h3v3h-3zM621.92 503.98h3v3h-3zM622.59 476.24h3v3h-3zM623 468.8h3v3h-3zM624.35 490.45h3v3h-3zM624.62 454.59h3v3h-3zM625.3 457.58h3v3h-3zM625.98 462.71h3v3h-3zM625.98 467.44h3v3h-3zM627.33 480.98h3v3h-3zM627.33 495.86h3v3h-3zM628.95 537.13h3v3h-3zM628.95 508.04h3v3h-3zM630.31 495.18h3v3h-3zM630.71 513.45h3v3h-3zM631.39 511.97h3v3h-3zM632.07 508.72h3v3h-3zM632.4 503.95h3v3h-3zM632.74 500.6h3v3h-3zM633.01 490.45h3v3h-3zM633.55 491.87h3v3h-3zM634.1 495.86h3v3h-3zM634.37 485.04h3v3h-3zM635.04 482.22h3v3h-3zM635.72 481.65h3v3h-3zM636.13 469.07h3v3h-3zM636.6 473.22h3v3h-3zM637.07 476.92h3v3h-3zM638.15 487.74h3v3h-3zM638.83 473.53h3v3h-3zM640.18 489.77h3v3h-3zM640.86 478.95h3v3h-3zM641.94 497.89h3v3h-3zM642.89 486.39h3v3h-3zM643.23 482.22h3v3h-3zM643.57 478.95h3v3h-3zM644.65 469.47h3v3h-3zM645.19 472.86h3v3h-3zM645.6 470.49h3v3h-3zM646 464.74h3v3h-3zM646.54 475.56h3v3h-3zM647.63 462.71h3v3h-3zM647.97 466.29h3v3h-3zM648.3 468.12h3v3h-3zM648.64 473.44h3v3h-3zM648.98 476.24h3v3h-3zM649.52 474.71h3v3h-3zM650.06 473.53h3v3h-3zM650.54 475.06h3v3h-3zM651.01 478.95h3v3h-3zM651.42 474.89h3v3h-3z" fill="#ad241f"/>
<path d="M99.5 67.2H683.4M99.5 230.1H683.4M105.5 61.2V236.1M677.4 61.2V236.1M134.09 67.2v-3M134.09 230.1v3M162.69 67.2v-3M162.69 230.1v3M191.28 67.2v-3M191.28 230.1v3M219.88 67.2v-3M219.88 230.1v3M248.47 67.2v-6M248.47 230.1v6M277.07 67.2v-3M277.07 230.1v3M305.66 67.2v-3M305.66 230.1v3M334.26 67.2v-3M334.26 230.1v3M362.85 67.2v-3M362.85 230.1v3M391.45 67.2v-6M391.45 230.1v6M420.04 67.2v-3M420.04 230.1v3M448.64 67.2v-3M448.64 230.1v3M477.24 67.2v-3M477.24 230.1v3M505.83 67.2v-3M505.83 230.1v3M534.42 67.2v-6M534.42 230.1v6M563.02 67.2v-3M563.02 230.1v3M591.62 67.2v-3M591.62 230.1v3M620.21 67.2v-3M620.21 230.1v3M648.81 67.2v-3M648.81 230.1v3M105.5 107.92h-6M677.4 107.92h6M105.5 148.65h-6M677.4 148.65h6M105.5 189.38h-6M677.4 189.38h6M105.5 80.78h-3M677.4 80.78h3M105.5 94.35h-3M677.4 94.35h3M105.5 121.5h-3M677.4 121.5h3M105.5 135.07h-3M677.4 135.07h3M105.5 162.22h-3M677.4 162.22h3M105.5 175.8h-3M677.4 175.8h3M105.5 202.95h-3M677.4 202.95h3M105.5 216.52h-3M677.4 216.52h3" fill="none" stroke="#2b2b2b" stroke-width="1"/>
<path d="M98.6 257.3H682.6M98.6 420H682.6M104.6 251.3V426M676.6 251.3V426M133.2 257.3v-3M133.2 420v3M161.8 257.3v-3M161.8 420v3M190.4 257.3v-3M190.4 420v3M219 257.3v-3M219 420v3M247.6 257.3v-6M247.6 420v6M276.2 257.3v-3M276.2 420v3M304.8 257.3v-3M304.8 420v3M333.4 257.3v-3M333.4 420v3M362 257.3v-3M362 420v3M390.6 257.3v-6M390.6 420v6M419.2 257.3v-3M419.2 420v3M447.8 257.3v-3M447.8 420v3M476.4 257.3v-3M476.4 420v3M505 257.3v-3M505 420v3M533.6 257.3v-6M533.6 420v6M562.2 257.3v-3M562.2 420v3M590.8 257.3v-3M590.8 420v3M619.4 257.3v-3M619.4 420v3M648 257.3v-3M648 420v3M104.6 311.53h-6M676.6 311.53h6M104.6 365.77h-6M676.6 365.77h6M104.6 409.15h-3M676.6 409.15h3M104.6 398.31h-3M676.6 398.31h3M104.6 387.46h-3M676.6 387.46h3M104.6 376.61h-3M676.6 376.61h3M104.6 354.92h-3M676.6 354.92h3M104.6 344.07h-3M676.6 344.07h3M104.6 333.23h-3M676.6 333.23h3M104.6 322.38h-3M676.6 322.38h3M104.6 300.69h-3M676.6 300.69h3M104.6 289.84h-3M676.6 289.84h3M104.6 278.99h-3M676.6 278.99h3M104.6 268.15h-3M676.6 268.15h3" fill="none" stroke="#2b2b2b" stroke-width="1"/>
<path d="M98.5 447.2H682.5M98.5 610.2H682.5M104.5 441.2V616.2M676.5 441.2V616.2M133.1 447.2v-3M133.1 610.2v3M161.7 447.2v-3M161.7 610.2v3M190.3 447.2v-3M190.3 610.2v3M218.9 447.2v-3M218.9 610.2v3M247.5 447.2v-6M247.5 610.2v6M276.1 447.2v-3M276.1 610.2v3M304.7 447.2v-3M304.7 610.2v3M333.3 447.2v-3M333.3 610.2v3M361.9 447.2v-3M361.9 610.2v3M390.5 447.2v-6M390.5 610.2v6M419.1 447.2v-3M419.1 610.2v3M447.7 447.2v-3M447.7 610.2v3M476.3 447.2v-3M476.3 610.2v3M504.9 447.2v-3M504.9 610.2v3M533.5 447.2v-6M533.5 610.2v6M562.1 447.2v-3M562.1 610.2v3M590.7 447.2v-3M590.7 610.2v3M619.3 447.2v-3M619.3 610.2v3M647.9 447.2v-3M647.9 610.2v3M104.5 528.7h-6M676.5 528.7h6M104.5 589.83h-3M676.5 589.83h3M104.5 569.45h-3M676.5 569.45h3M104.5 549.08h-3M676.5 549.08h3M104.5 508.32h-3M676.5 508.32h3M104.5 487.95h-3M676.5 487.95h3M104.5 467.57h-3M676.5 467.57h3" fill="none" stroke="#2b2b2b" stroke-width="1"/>
<text x="97.7" y="71.2" font-size="17.2" text-anchor="end">90</text>
<text x="96.5" y="112.9" font-size="17.2" text-anchor="end">45</text>
<text x="95.4" y="156.3" font-size="17.2" text-anchor="end">0</text>
<text x="95.6" y="197.1" font-size="17.2" text-anchor="end">-45</text>
<text x="97.8" y="236.1" font-size="17.2" text-anchor="end">-90</text>
<text x="97.3" y="263" font-size="17.2" text-anchor="end">0.015</text>
<text x="96" y="318" font-size="17.2" text-anchor="end">0.01</text>
<text x="96.5" y="373.8" font-size="17.2" text-anchor="end">0.005</text>
<text x="94.7" y="425.9" font-size="17.2" text-anchor="end">0</text>
<text x="94.7" y="454.8" font-size="17.2" text-anchor="end">1.2</text>
<text x="94.7" y="535.2" font-size="17.2" text-anchor="end">0.8</text>
<text x="94" y="616.2" font-size="17.2" text-anchor="end">0.4</text>
<text x="104.2" y="634.8" font-size="17.2" text-anchor="middle">0</text>
<text x="247.4" y="634.8" font-size="17.2" text-anchor="middle">5</text>
<text x="388.3" y="634.8" font-size="17.2" text-anchor="middle">10</text>
<text x="535.3" y="634.8" font-size="17.2" text-anchor="middle">15</text>
<text x="675.6" y="634.8" font-size="17.2" text-anchor="middle">20</text>
<text x="398.5" y="660.6" font-size="19.6" text-anchor="middle">Depth (m)</text>
<text x="181.2" y="212.5" font-size="19.8" font-weight="bold" text-anchor="middle" style="fill:#eeeeee">Disturbed</text>
<text transform="translate(651.05 97.3) scale(0.91 1)" font-size="26" text-anchor="middle">(a)</text>
<text transform="translate(653.75 288.7) scale(0.95 1)" font-size="26" text-anchor="middle">(b)</text>
<text transform="translate(653.95 592.5) scale(0.94 1)" font-size="26" text-anchor="middle">(c)</text>
<text transform="translate(26.3 190.3) rotate(-90)" font-size="19.95">Inclination (°)</text>
<text transform="translate(13.8 356) rotate(-90)" font-size="19.3">RPI</text>
<text transform="translate(39.2 417) rotate(-90)" font-size="19.3">(NRM/IRM)<tspan font-size="15.8" dy="4.1">AF30mT</tspan></text>
<text transform="translate(19.4 580) rotate(-90)" font-size="19.5" letter-spacing="0.4"><tspan font-style="italic">k</tspan><tspan font-size="16.8" dy="1.6">ARM</tspan><tspan dy="-1.6">/SIRM</tspan></text>
<text transform="translate(45.3 573) rotate(-90)" font-size="19.5" letter-spacing="0.1">(x10<tspan font-size="16.5" dy="-5.3">-3</tspan><tspan dy="5.3"> m/A)</tspan></text>
</svg></body></html>
